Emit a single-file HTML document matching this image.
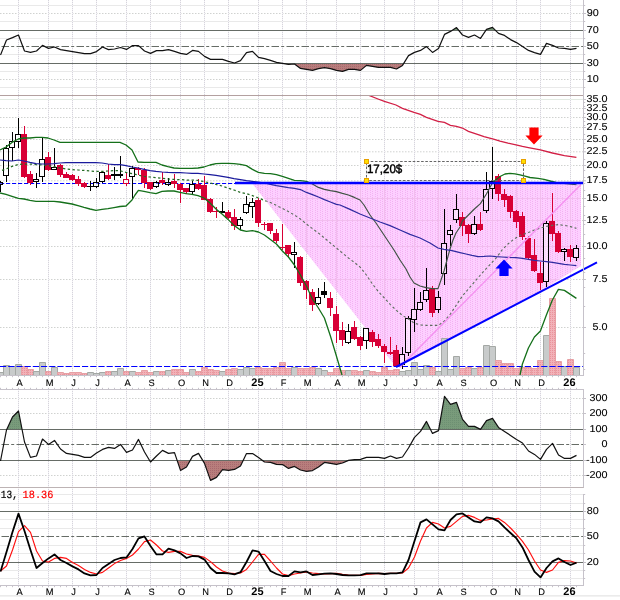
<!DOCTYPE html>
<html lang="en"><head><meta charset="utf-8"><title>Chart</title>
<style>html,body{margin:0;padding:0;background:#fff;}body{width:620px;height:600px;overflow:hidden;}svg{display:block;}text{font-family:"Liberation Sans",Arial,sans-serif;text-rendering:geometricPrecision;}.ax{font-size:10px;fill:#000;stroke:#000;stroke-width:0.1px;}.mo{font-size:9.3px;fill:#000;text-anchor:middle;stroke:#000;stroke-width:0.1px;}.yr{font-size:11px;font-weight:bold;fill:#000;text-anchor:middle;}.mono{font-family:"Liberation Mono","Courier New",monospace;font-size:11px;}</style></head><body>
<svg width="620" height="600" viewBox="0 0 620 600">
<defs>
<pattern id="pk" width="5" height="4" patternUnits="userSpaceOnUse"><rect width="5" height="4" fill="#f400ff" fill-opacity="0.19"/><g fill="#b000a3" fill-opacity="0.14"><rect x="0" y="0" width="1" height="1"/><rect x="0" y="2" width="1" height="1"/><rect x="2" y="1" width="1" height="1"/><rect x="2" y="3" width="1" height="1"/></g></pattern>
<pattern id="gn" width="2" height="2" patternUnits="userSpaceOnUse"><rect width="2" height="2" fill="#799b7b"/><rect width="1" height="1" fill="#6d8f72"/></pattern>
<pattern id="br" width="2" height="2" patternUnits="userSpaceOnUse"><rect width="2" height="2" fill="#b87e7c"/><rect width="1" height="1" fill="#a8686f"/></pattern>
<pattern id="vp" width="2" height="2" patternUnits="userSpaceOnUse"><rect width="2" height="2" fill="#f2b2b8"/><rect width="1" height="1" fill="#ea929c"/></pattern>
<clipPath id="cpPrice"><rect x="0" y="95" width="584" height="280.5"/></clipPath>
<clipPath id="cpBot"><rect x="0" y="585" width="620" height="10.4"/></clipPath>
<clipPath id="cpPink"><polygon points="251.8,183 581,183 581,266 539,292 396.0,367.0"/></clipPath>
<clipPath id="cpOut"><path clip-rule="evenodd" d="M0,90H620V380H0Z M251.8,183L581,183L581,266L539,292L396.0,367.0Z"/></clipPath>
</defs>
<rect width="620" height="600" fill="#fff"/>
<g fill="none">
<line x1="0" y1="5.5" x2="584" y2="5.5" stroke="#e9e9e9" stroke-width="1"/>
<line x1="0" y1="21.5" x2="584" y2="21.5" stroke="#e9e9e9" stroke-width="1"/>
<line x1="0" y1="38.5" x2="584" y2="38.5" stroke="#e9e9e9" stroke-width="1"/>
<line x1="0" y1="54.5" x2="584" y2="54.5" stroke="#e9e9e9" stroke-width="1"/>
<line x1="0" y1="71.5" x2="584" y2="71.5" stroke="#e9e9e9" stroke-width="1"/>
<line x1="0" y1="87.5" x2="584" y2="87.5" stroke="#e9e9e9" stroke-width="1"/>
<line x1="0" y1="13.5" x2="584" y2="13.5" stroke="#d0d2d0" stroke-width="1" stroke-dasharray="1.5 1.5"/>
<line x1="0" y1="79.5" x2="584" y2="79.5" stroke="#d0d2d0" stroke-width="1" stroke-dasharray="1.5 1.5"/>
<line x1="0" y1="108.5" x2="584" y2="108.5" stroke="#d0d2d0" stroke-width="1" stroke-dasharray="1.5 1.5"/>
<line x1="0" y1="117.5" x2="584" y2="117.5" stroke="#d0d2d0" stroke-width="1" stroke-dasharray="1.5 1.5"/>
<line x1="0" y1="127.5" x2="584" y2="127.5" stroke="#d0d2d0" stroke-width="1" stroke-dasharray="1.5 1.5"/>
<line x1="0" y1="139.5" x2="584" y2="139.5" stroke="#d0d2d0" stroke-width="1" stroke-dasharray="1.5 1.5"/>
<line x1="0" y1="151.8" x2="584" y2="151.8" stroke="#d0d2d0" stroke-width="1" stroke-dasharray="1.5 1.5"/>
<line x1="0" y1="165.5" x2="584" y2="165.5" stroke="#d0d2d0" stroke-width="1" stroke-dasharray="1.5 1.5"/>
<line x1="0" y1="180.8" x2="584" y2="180.8" stroke="#d0d2d0" stroke-width="1" stroke-dasharray="1.5 1.5"/>
<line x1="0" y1="198.5" x2="584" y2="198.5" stroke="#d0d2d0" stroke-width="1" stroke-dasharray="1.5 1.5"/>
<line x1="0" y1="220.5" x2="584" y2="220.5" stroke="#d0d2d0" stroke-width="1" stroke-dasharray="1.5 1.5"/>
<line x1="0" y1="246.5" x2="584" y2="246.5" stroke="#d0d2d0" stroke-width="1" stroke-dasharray="1.5 1.5"/>
<line x1="0" y1="279.5" x2="584" y2="279.5" stroke="#d0d2d0" stroke-width="1" stroke-dasharray="1.5 1.5"/>
<line x1="0" y1="327.5" x2="584" y2="327.5" stroke="#d0d2d0" stroke-width="1" stroke-dasharray="1.5 1.5"/>
<line x1="0" y1="99.5" x2="584" y2="99.5" stroke="#e2eae2" stroke-width="1"/>
<line x1="0" y1="398.5" x2="584" y2="398.5" stroke="#d0d2d0" stroke-width="1" stroke-dasharray="1.5 1.5"/>
<line x1="0" y1="413.5" x2="584" y2="413.5" stroke="#d0d2d0" stroke-width="1" stroke-dasharray="1.5 1.5"/>
<line x1="0" y1="475.5" x2="584" y2="475.5" stroke="#d0d2d0" stroke-width="1" stroke-dasharray="1.5 1.5"/>
<line x1="0" y1="494.5" x2="584" y2="494.5" stroke="#e9e9e9" stroke-width="1"/>
<line x1="0" y1="503.5" x2="584" y2="503.5" stroke="#e9e9e9" stroke-width="1"/>
<line x1="0" y1="519.5" x2="584" y2="519.5" stroke="#e9e9e9" stroke-width="1"/>
<line x1="0" y1="528.5" x2="584" y2="528.5" stroke="#e9e9e9" stroke-width="1"/>
<line x1="0" y1="545.5" x2="584" y2="545.5" stroke="#e9e9e9" stroke-width="1"/>
<line x1="0" y1="553.5" x2="584" y2="553.5" stroke="#e9e9e9" stroke-width="1"/>
<line x1="0" y1="570.5" x2="584" y2="570.5" stroke="#e9e9e9" stroke-width="1"/>
<line x1="0" y1="578.5" x2="584" y2="578.5" stroke="#e9e9e9" stroke-width="1"/>
<line x1="18.5" y1="0" x2="18.5" y2="375" stroke="#f4f3f6"/>
<line x1="18.5" y1="0" x2="18.5" y2="375" stroke="#d6d4dc" stroke-dasharray="1 1"/>
<line x1="18.5" y1="389" x2="18.5" y2="585" stroke="#f4f3f6"/>
<line x1="18.5" y1="389" x2="18.5" y2="585" stroke="#d6d4dc" stroke-dasharray="1 1"/>
<line x1="48.5" y1="0" x2="48.5" y2="375" stroke="#f4f3f6"/>
<line x1="48.5" y1="0" x2="48.5" y2="375" stroke="#d6d4dc" stroke-dasharray="1 1"/>
<line x1="48.5" y1="389" x2="48.5" y2="585" stroke="#f4f3f6"/>
<line x1="48.5" y1="389" x2="48.5" y2="585" stroke="#d6d4dc" stroke-dasharray="1 1"/>
<line x1="72.5" y1="0" x2="72.5" y2="375" stroke="#f4f3f6"/>
<line x1="72.5" y1="0" x2="72.5" y2="375" stroke="#d6d4dc" stroke-dasharray="1 1"/>
<line x1="72.5" y1="389" x2="72.5" y2="585" stroke="#f4f3f6"/>
<line x1="72.5" y1="389" x2="72.5" y2="585" stroke="#d6d4dc" stroke-dasharray="1 1"/>
<line x1="96.5" y1="0" x2="96.5" y2="375" stroke="#f4f3f6"/>
<line x1="96.5" y1="0" x2="96.5" y2="375" stroke="#d6d4dc" stroke-dasharray="1 1"/>
<line x1="96.5" y1="389" x2="96.5" y2="585" stroke="#f4f3f6"/>
<line x1="96.5" y1="389" x2="96.5" y2="585" stroke="#d6d4dc" stroke-dasharray="1 1"/>
<line x1="126.5" y1="0" x2="126.5" y2="375" stroke="#f4f3f6"/>
<line x1="126.5" y1="0" x2="126.5" y2="375" stroke="#d6d4dc" stroke-dasharray="1 1"/>
<line x1="126.5" y1="389" x2="126.5" y2="585" stroke="#f4f3f6"/>
<line x1="126.5" y1="389" x2="126.5" y2="585" stroke="#d6d4dc" stroke-dasharray="1 1"/>
<line x1="150.5" y1="0" x2="150.5" y2="375" stroke="#f4f3f6"/>
<line x1="150.5" y1="0" x2="150.5" y2="375" stroke="#d6d4dc" stroke-dasharray="1 1"/>
<line x1="150.5" y1="389" x2="150.5" y2="585" stroke="#f4f3f6"/>
<line x1="150.5" y1="389" x2="150.5" y2="585" stroke="#d6d4dc" stroke-dasharray="1 1"/>
<line x1="180.5" y1="0" x2="180.5" y2="375" stroke="#f4f3f6"/>
<line x1="180.5" y1="0" x2="180.5" y2="375" stroke="#d6d4dc" stroke-dasharray="1 1"/>
<line x1="180.5" y1="389" x2="180.5" y2="585" stroke="#f4f3f6"/>
<line x1="180.5" y1="389" x2="180.5" y2="585" stroke="#d6d4dc" stroke-dasharray="1 1"/>
<line x1="204.5" y1="0" x2="204.5" y2="375" stroke="#f4f3f6"/>
<line x1="204.5" y1="0" x2="204.5" y2="375" stroke="#d6d4dc" stroke-dasharray="1 1"/>
<line x1="204.5" y1="389" x2="204.5" y2="585" stroke="#f4f3f6"/>
<line x1="204.5" y1="389" x2="204.5" y2="585" stroke="#d6d4dc" stroke-dasharray="1 1"/>
<line x1="228.5" y1="0" x2="228.5" y2="375" stroke="#f4f3f6"/>
<line x1="228.5" y1="0" x2="228.5" y2="375" stroke="#d6d4dc" stroke-dasharray="1 1"/>
<line x1="228.5" y1="389" x2="228.5" y2="585" stroke="#f4f3f6"/>
<line x1="228.5" y1="389" x2="228.5" y2="585" stroke="#d6d4dc" stroke-dasharray="1 1"/>
<line x1="258.5" y1="0" x2="258.5" y2="375" stroke="#f4f3f6"/>
<line x1="258.5" y1="0" x2="258.5" y2="375" stroke="#d6d4dc" stroke-dasharray="1 1"/>
<line x1="258.5" y1="389" x2="258.5" y2="585" stroke="#f4f3f6"/>
<line x1="258.5" y1="389" x2="258.5" y2="585" stroke="#d6d4dc" stroke-dasharray="1 1"/>
<line x1="282.5" y1="0" x2="282.5" y2="375" stroke="#f4f3f6"/>
<line x1="282.5" y1="0" x2="282.5" y2="375" stroke="#d6d4dc" stroke-dasharray="1 1"/>
<line x1="282.5" y1="389" x2="282.5" y2="585" stroke="#f4f3f6"/>
<line x1="282.5" y1="389" x2="282.5" y2="585" stroke="#d6d4dc" stroke-dasharray="1 1"/>
<line x1="306.5" y1="0" x2="306.5" y2="375" stroke="#f4f3f6"/>
<line x1="306.5" y1="0" x2="306.5" y2="375" stroke="#d6d4dc" stroke-dasharray="1 1"/>
<line x1="306.5" y1="389" x2="306.5" y2="585" stroke="#f4f3f6"/>
<line x1="306.5" y1="389" x2="306.5" y2="585" stroke="#d6d4dc" stroke-dasharray="1 1"/>
<line x1="336.5" y1="0" x2="336.5" y2="375" stroke="#f4f3f6"/>
<line x1="336.5" y1="0" x2="336.5" y2="375" stroke="#d6d4dc" stroke-dasharray="1 1"/>
<line x1="336.5" y1="389" x2="336.5" y2="585" stroke="#f4f3f6"/>
<line x1="336.5" y1="389" x2="336.5" y2="585" stroke="#d6d4dc" stroke-dasharray="1 1"/>
<line x1="360.5" y1="0" x2="360.5" y2="375" stroke="#f4f3f6"/>
<line x1="360.5" y1="0" x2="360.5" y2="375" stroke="#d6d4dc" stroke-dasharray="1 1"/>
<line x1="360.5" y1="389" x2="360.5" y2="585" stroke="#f4f3f6"/>
<line x1="360.5" y1="389" x2="360.5" y2="585" stroke="#d6d4dc" stroke-dasharray="1 1"/>
<line x1="384.5" y1="0" x2="384.5" y2="375" stroke="#f4f3f6"/>
<line x1="384.5" y1="0" x2="384.5" y2="375" stroke="#d6d4dc" stroke-dasharray="1 1"/>
<line x1="384.5" y1="389" x2="384.5" y2="585" stroke="#f4f3f6"/>
<line x1="384.5" y1="389" x2="384.5" y2="585" stroke="#d6d4dc" stroke-dasharray="1 1"/>
<line x1="414.5" y1="0" x2="414.5" y2="375" stroke="#f4f3f6"/>
<line x1="414.5" y1="0" x2="414.5" y2="375" stroke="#d6d4dc" stroke-dasharray="1 1"/>
<line x1="414.5" y1="389" x2="414.5" y2="585" stroke="#f4f3f6"/>
<line x1="414.5" y1="389" x2="414.5" y2="585" stroke="#d6d4dc" stroke-dasharray="1 1"/>
<line x1="438.5" y1="0" x2="438.5" y2="375" stroke="#f4f3f6"/>
<line x1="438.5" y1="0" x2="438.5" y2="375" stroke="#d6d4dc" stroke-dasharray="1 1"/>
<line x1="438.5" y1="389" x2="438.5" y2="585" stroke="#f4f3f6"/>
<line x1="438.5" y1="389" x2="438.5" y2="585" stroke="#d6d4dc" stroke-dasharray="1 1"/>
<line x1="462.5" y1="0" x2="462.5" y2="375" stroke="#f4f3f6"/>
<line x1="462.5" y1="0" x2="462.5" y2="375" stroke="#d6d4dc" stroke-dasharray="1 1"/>
<line x1="462.5" y1="389" x2="462.5" y2="585" stroke="#f4f3f6"/>
<line x1="462.5" y1="389" x2="462.5" y2="585" stroke="#d6d4dc" stroke-dasharray="1 1"/>
<line x1="492.5" y1="0" x2="492.5" y2="375" stroke="#f4f3f6"/>
<line x1="492.5" y1="0" x2="492.5" y2="375" stroke="#d6d4dc" stroke-dasharray="1 1"/>
<line x1="492.5" y1="389" x2="492.5" y2="585" stroke="#f4f3f6"/>
<line x1="492.5" y1="389" x2="492.5" y2="585" stroke="#d6d4dc" stroke-dasharray="1 1"/>
<line x1="516.5" y1="0" x2="516.5" y2="375" stroke="#f4f3f6"/>
<line x1="516.5" y1="0" x2="516.5" y2="375" stroke="#d6d4dc" stroke-dasharray="1 1"/>
<line x1="516.5" y1="389" x2="516.5" y2="585" stroke="#f4f3f6"/>
<line x1="516.5" y1="389" x2="516.5" y2="585" stroke="#d6d4dc" stroke-dasharray="1 1"/>
<line x1="540.5" y1="0" x2="540.5" y2="375" stroke="#f4f3f6"/>
<line x1="540.5" y1="0" x2="540.5" y2="375" stroke="#d6d4dc" stroke-dasharray="1 1"/>
<line x1="540.5" y1="389" x2="540.5" y2="585" stroke="#f4f3f6"/>
<line x1="540.5" y1="389" x2="540.5" y2="585" stroke="#d6d4dc" stroke-dasharray="1 1"/>
<line x1="570.5" y1="0" x2="570.5" y2="375" stroke="#f4f3f6"/>
<line x1="570.5" y1="0" x2="570.5" y2="375" stroke="#d6d4dc" stroke-dasharray="1 1"/>
<line x1="570.5" y1="389" x2="570.5" y2="585" stroke="#f4f3f6"/>
<line x1="570.5" y1="389" x2="570.5" y2="585" stroke="#d6d4dc" stroke-dasharray="1 1"/>
</g>
<polygon points="251.8,183 581,183 581,266 539,292 396.0,367.0" fill="#fff"/>
<polygon points="251.8,183 581,183 581,266 539,292 396.0,367.0" fill="url(#pk)"/>
<g fill="none" clip-path="url(#cpPink)" stroke="#f2bdee">
<line x1="250" y1="198.5" x2="584" y2="198.5"/>
<line x1="250" y1="220.5" x2="584" y2="220.5"/>
<line x1="250" y1="246.5" x2="584" y2="246.5"/>
<line x1="250" y1="279.5" x2="584" y2="279.5"/>
<line x1="258.5" y1="180" x2="258.5" y2="370"/>
<line x1="282.5" y1="180" x2="282.5" y2="370"/>
<line x1="306.5" y1="180" x2="306.5" y2="370"/>
<line x1="336.5" y1="180" x2="336.5" y2="370"/>
<line x1="360.5" y1="180" x2="360.5" y2="370"/>
<line x1="384.5" y1="180" x2="384.5" y2="370"/>
<line x1="414.5" y1="180" x2="414.5" y2="370"/>
<line x1="438.5" y1="180" x2="438.5" y2="370"/>
<line x1="462.5" y1="180" x2="462.5" y2="370"/>
<line x1="492.5" y1="180" x2="492.5" y2="370"/>
<line x1="516.5" y1="180" x2="516.5" y2="370"/>
<line x1="540.5" y1="180" x2="540.5" y2="370"/>
<line x1="570.5" y1="180" x2="570.5" y2="370"/>
</g>
<g fill="none">
<polygon points="451.9,30.5 456.5,27.6 458.9,30.5" fill="url(#gn)" stroke="none"/>
<polygon points="485.8,30.5 486.5,29.4 492.5,27.4 495.6,30.5" fill="url(#gn)" stroke="none"/>
<polygon points="283.1,63.5 288.5,64.4 294.5,64.0 300.5,68.4 306.5,69.4 312.5,70.4 318.5,68.6 324.5,67.6 330.5,68.6 336.5,70.4 342.5,71.4 348.5,69.4 354.5,69.4 360.5,70.4 366.5,65.4 372.5,66.4 378.5,67.4 384.5,67.4 390.5,67.4 396.5,69.0 402.5,65.4 403.7,63.5" fill="url(#br)" stroke="none"/>
<line x1="0" y1="30.5" x2="584" y2="30.5" stroke="#666c66" stroke-width="1"/>
<line x1="0" y1="63.5" x2="584" y2="63.5" stroke="#666c66" stroke-width="1"/>
<line x1="1.5" y1="46.5" x2="584" y2="46.5" stroke="#666c66" stroke-width="1" stroke-dasharray="7.5 2.2 3 2.3"/>
</g>
<polyline points="0.5,55.0 6.5,40.0 12.5,37.6 18.5,35.0 24.5,51.0 30.5,52.4 36.5,51.0 42.5,45.4 48.5,48.4 54.5,47.0 60.5,49.6 66.5,50.6 72.5,51.6 78.5,52.6 84.5,53.6 90.5,53.6 96.5,51.6 102.5,47.0 108.5,49.6 114.5,49.0 120.5,47.5 126.5,49.4 132.5,45.6 138.5,45.6 144.5,51.0 150.5,53.4 156.5,50.6 162.5,50.6 168.5,49.6 174.5,51.4 180.5,53.4 186.5,54.4 192.5,50.4 198.5,51.4 204.5,56.4 210.5,59.4 216.5,59.4 222.5,59.4 228.5,61.4 234.5,63.0 240.5,60.6 246.5,52.6 252.5,51.4 258.5,57.4 264.5,58.6 270.5,60.4 276.5,62.4 282.5,63.4 288.5,64.4 294.5,64.0 300.5,68.4 306.5,69.4 312.5,70.4 318.5,68.6 324.5,67.6 330.5,68.6 336.5,70.4 342.5,71.4 348.5,69.4 354.5,69.4 360.5,70.4 366.5,65.4 372.5,66.4 378.5,67.4 384.5,67.4 390.5,67.4 396.5,69.0 402.5,65.4 408.5,55.6 414.5,52.4 420.5,50.4 426.5,46.6 432.5,52.4 438.5,48.6 444.5,34.4 450.5,31.4 456.5,27.6 462.5,35.0 468.5,37.4 474.5,35.0 480.5,38.4 486.5,29.4 492.5,27.4 498.5,33.4 504.5,35.4 510.5,39.6 516.5,42.6 522.5,46.6 528.5,50.4 534.5,52.6 540.5,54.4 546.5,43.4 552.5,45.4 558.5,48.0 564.5,48.4 570.5,49.4 576.5,48.4" fill="none" stroke="#111" stroke-width="1.2" stroke-linejoin="round"/>
<g clip-path="url(#cpPrice)">
<g>
<path d="M-2.5,375.5V372.5H3.5V375.5" fill="#c8cbcb" stroke="#a4a8a5"/>
<path d="M3.5,375.5V365.5H9.5V375.5" fill="#c8cbcb" stroke="#a4a8a5"/>
<path d="M9.5,375.5V366.5H15.5V375.5" fill="#c8cbcb" stroke="#a4a8a5"/>
<path d="M15.5,375.5V364.5H21.5V375.5" fill="#c8cbcb" stroke="#a4a8a5"/>
<path d="M21.5,375.5V366.5H27.5V375.5" fill="url(#vp)" stroke="#e6a0a4"/>
<path d="M27.5,375.5V369.5H33.5V375.5" fill="url(#vp)" stroke="#e6a0a4"/>
<path d="M33.5,375.5V371.5H39.5V375.5" fill="#c8cbcb" stroke="#a4a8a5"/>
<path d="M39.5,375.5V362.5H45.5V375.5" fill="#c8cbcb" stroke="#a4a8a5"/>
<path d="M45.5,375.5V371.5H51.5V375.5" fill="url(#vp)" stroke="#e6a0a4"/>
<path d="M51.5,375.5V367.5H57.5V375.5" fill="#c8cbcb" stroke="#a4a8a5"/>
<path d="M57.5,375.5V372.5H63.5V375.5" fill="url(#vp)" stroke="#e6a0a4"/>
<path d="M63.5,375.5V373.5H69.5V375.5" fill="url(#vp)" stroke="#e6a0a4"/>
<path d="M69.5,375.5V372.5H75.5V375.5" fill="url(#vp)" stroke="#e6a0a4"/>
<path d="M75.5,375.5V372.5H81.5V375.5" fill="url(#vp)" stroke="#e6a0a4"/>
<path d="M81.5,375.5V373.5H87.5V375.5" fill="url(#vp)" stroke="#e6a0a4"/>
<path d="M87.5,375.5V372.5H93.5V375.5" fill="#c8cbcb" stroke="#a4a8a5"/>
<path d="M93.5,375.5V373.5H99.5V375.5" fill="#c8cbcb" stroke="#a4a8a5"/>
<path d="M99.5,375.5V372.5H105.5V375.5" fill="#c8cbcb" stroke="#a4a8a5"/>
<path d="M105.5,375.5V371.5H111.5V375.5" fill="url(#vp)" stroke="#e6a0a4"/>
<path d="M111.5,375.5V371.5H117.5V375.5" fill="#c8cbcb" stroke="#a4a8a5"/>
<path d="M117.5,375.5V368.5H123.5V375.5" fill="#c8cbcb" stroke="#a4a8a5"/>
<path d="M123.5,375.5V371.5H129.5V375.5" fill="url(#vp)" stroke="#e6a0a4"/>
<path d="M129.5,375.5V371.5H135.5V375.5" fill="#c8cbcb" stroke="#a4a8a5"/>
<path d="M135.5,375.5V372.5H141.5V375.5" fill="url(#vp)" stroke="#e6a0a4"/>
<path d="M141.5,375.5V370.5H147.5V375.5" fill="url(#vp)" stroke="#e6a0a4"/>
<path d="M147.5,375.5V372.5H153.5V375.5" fill="url(#vp)" stroke="#e6a0a4"/>
<path d="M153.5,375.5V371.5H159.5V375.5" fill="#c8cbcb" stroke="#a4a8a5"/>
<path d="M159.5,375.5V371.5H165.5V375.5" fill="url(#vp)" stroke="#e6a0a4"/>
<path d="M165.5,375.5V370.5H171.5V375.5" fill="#c8cbcb" stroke="#a4a8a5"/>
<path d="M171.5,375.5V369.5H177.5V375.5" fill="url(#vp)" stroke="#e6a0a4"/>
<path d="M177.5,375.5V369.5H183.5V375.5" fill="url(#vp)" stroke="#e6a0a4"/>
<path d="M183.5,375.5V372.5H189.5V375.5" fill="url(#vp)" stroke="#e6a0a4"/>
<path d="M189.5,375.5V369.5H195.5V375.5" fill="#c8cbcb" stroke="#a4a8a5"/>
<path d="M195.5,375.5V371.5H201.5V375.5" fill="url(#vp)" stroke="#e6a0a4"/>
<path d="M201.5,375.5V367.5H207.5V375.5" fill="url(#vp)" stroke="#e6a0a4"/>
<path d="M207.5,375.5V369.5H213.5V375.5" fill="url(#vp)" stroke="#e6a0a4"/>
<path d="M213.5,375.5V370.5H219.5V375.5" fill="url(#vp)" stroke="#e6a0a4"/>
<path d="M219.5,375.5V371.5H225.5V375.5" fill="#c8cbcb" stroke="#a4a8a5"/>
<path d="M225.5,375.5V369.5H231.5V375.5" fill="url(#vp)" stroke="#e6a0a4"/>
<path d="M231.5,375.5V368.5H237.5V375.5" fill="url(#vp)" stroke="#e6a0a4"/>
<path d="M237.5,375.5V369.5H243.5V375.5" fill="#c8cbcb" stroke="#a4a8a5"/>
<path d="M243.5,375.5V367.5H249.5V375.5" fill="#c8cbcb" stroke="#a4a8a5"/>
<path d="M249.5,375.5V368.5H255.5V375.5" fill="#c8cbcb" stroke="#a4a8a5"/>
<path d="M255.5,375.5V367.5H261.5V375.5" fill="url(#vp)" stroke="#e6a0a4"/>
<path d="M261.5,375.5V368.5H267.5V375.5" fill="url(#vp)" stroke="#e6a0a4"/>
<path d="M267.5,375.5V368.5H273.5V375.5" fill="url(#vp)" stroke="#e6a0a4"/>
<path d="M273.5,375.5V367.5H279.5V375.5" fill="url(#vp)" stroke="#e6a0a4"/>
<path d="M279.5,375.5V362.5H285.5V375.5" fill="url(#vp)" stroke="#e6a0a4"/>
<path d="M285.5,375.5V368.5H291.5V375.5" fill="url(#vp)" stroke="#e6a0a4"/>
<path d="M291.5,375.5V367.5H297.5V375.5" fill="#c8cbcb" stroke="#a4a8a5"/>
<path d="M297.5,375.5V368.5H303.5V375.5" fill="url(#vp)" stroke="#e6a0a4"/>
<path d="M303.5,375.5V368.5H309.5V375.5" fill="url(#vp)" stroke="#e6a0a4"/>
<path d="M309.5,375.5V367.5H315.5V375.5" fill="url(#vp)" stroke="#e6a0a4"/>
<path d="M315.5,375.5V368.5H321.5V375.5" fill="#c8cbcb" stroke="#a4a8a5"/>
<path d="M321.5,375.5V370.5H327.5V375.5" fill="#c8cbcb" stroke="#a4a8a5"/>
<path d="M327.5,375.5V372.5H333.5V375.5" fill="url(#vp)" stroke="#e6a0a4"/>
<path d="M333.5,375.5V368.5H339.5V375.5" fill="url(#vp)" stroke="#e6a0a4"/>
<path d="M339.5,375.5V370.5H345.5V375.5" fill="url(#vp)" stroke="#e6a0a4"/>
<path d="M345.5,375.5V370.5H351.5V375.5" fill="#c8cbcb" stroke="#a4a8a5"/>
<path d="M351.5,375.5V370.5H357.5V375.5" fill="url(#vp)" stroke="#e6a0a4"/>
<path d="M357.5,375.5V371.5H363.5V375.5" fill="url(#vp)" stroke="#e6a0a4"/>
<path d="M363.5,375.5V370.5H369.5V375.5" fill="#c8cbcb" stroke="#a4a8a5"/>
<path d="M369.5,375.5V371.5H375.5V375.5" fill="url(#vp)" stroke="#e6a0a4"/>
<path d="M375.5,375.5V372.5H381.5V375.5" fill="url(#vp)" stroke="#e6a0a4"/>
<path d="M381.5,375.5V367.5H387.5V375.5" fill="url(#vp)" stroke="#e6a0a4"/>
<path d="M387.5,375.5V370.5H393.5V375.5" fill="url(#vp)" stroke="#e6a0a4"/>
<path d="M393.5,375.5V369.5H399.5V375.5" fill="url(#vp)" stroke="#e6a0a4"/>
<path d="M399.5,375.5V371.5H405.5V375.5" fill="#c8cbcb" stroke="#a4a8a5"/>
<path d="M405.5,375.5V370.5H411.5V375.5" fill="#c8cbcb" stroke="#a4a8a5"/>
<path d="M411.5,375.5V362.5H417.5V375.5" fill="#c8cbcb" stroke="#a4a8a5"/>
<path d="M417.5,375.5V369.5H423.5V375.5" fill="#c8cbcb" stroke="#a4a8a5"/>
<path d="M423.5,375.5V365.5H429.5V375.5" fill="#c8cbcb" stroke="#a4a8a5"/>
<path d="M429.5,375.5V367.5H435.5V375.5" fill="url(#vp)" stroke="#e6a0a4"/>
<path d="M435.5,375.5V371.5H441.5V375.5" fill="#c8cbcb" stroke="#a4a8a5"/>
<path d="M441.5,375.5V338.5H447.5V375.5" fill="#c8cbcb" stroke="#a4a8a5"/>
<path d="M447.5,375.5V369.5H453.5V375.5" fill="#c8cbcb" stroke="#a4a8a5"/>
<path d="M453.5,375.5V356.5H459.5V375.5" fill="#c8cbcb" stroke="#a4a8a5"/>
<path d="M459.5,375.5V368.5H465.5V375.5" fill="url(#vp)" stroke="#e6a0a4"/>
<path d="M465.5,375.5V367.5H471.5V375.5" fill="url(#vp)" stroke="#e6a0a4"/>
<path d="M471.5,375.5V368.5H477.5V375.5" fill="#c8cbcb" stroke="#a4a8a5"/>
<path d="M477.5,375.5V367.5H483.5V375.5" fill="url(#vp)" stroke="#e6a0a4"/>
<path d="M483.5,375.5V345.5H489.5V375.5" fill="#c8cbcb" stroke="#a4a8a5"/>
<path d="M489.5,375.5V346.5H495.5V375.5" fill="#c8cbcb" stroke="#a4a8a5"/>
<path d="M495.5,375.5V360.5H501.5V375.5" fill="url(#vp)" stroke="#e6a0a4"/>
<path d="M501.5,375.5V363.5H507.5V375.5" fill="url(#vp)" stroke="#e6a0a4"/>
<path d="M507.5,375.5V363.5H513.5V375.5" fill="url(#vp)" stroke="#e6a0a4"/>
<path d="M513.5,375.5V368.5H519.5V375.5" fill="url(#vp)" stroke="#e6a0a4"/>
<path d="M519.5,375.5V367.5H525.5V375.5" fill="url(#vp)" stroke="#e6a0a4"/>
<path d="M525.5,375.5V367.5H531.5V375.5" fill="url(#vp)" stroke="#e6a0a4"/>
<path d="M531.5,375.5V368.5H537.5V375.5" fill="url(#vp)" stroke="#e6a0a4"/>
<path d="M537.5,375.5V360.5H543.5V375.5" fill="url(#vp)" stroke="#e6a0a4"/>
<path d="M543.5,375.5V335.5H549.5V375.5" fill="#c8cbcb" stroke="#a4a8a5"/>
<path d="M549.5,375.5V298.5H555.5V375.5" fill="url(#vp)" stroke="#e6a0a4"/>
<path d="M555.5,375.5V361.5H561.5V375.5" fill="url(#vp)" stroke="#e6a0a4"/>
<path d="M561.5,375.5V366.5H567.5V375.5" fill="#c8cbcb" stroke="#a4a8a5"/>
<path d="M567.5,375.5V359.5H573.5V375.5" fill="url(#vp)" stroke="#e6a0a4"/>
<path d="M573.5,375.5V367.5H579.5V375.5" fill="#c8cbcb" stroke="#a4a8a5"/>
</g>
<line x1="0" y1="366.5" x2="584" y2="366.5" stroke="#0000ff" stroke-width="1" stroke-dasharray="6.2 2"/>
<line x1="0" y1="183.5" x2="236" y2="183.5" stroke="#0000ff" stroke-width="1" stroke-dasharray="4.2 1.8"/>
<g shape-rendering="crispEdges">
<line x1="0.5" y1="181" x2="0.5" y2="182" stroke="#000"/>
<line x1="0.5" y1="185" x2="0.5" y2="192" stroke="#000"/>
<rect x="-2.5" y="182.5" width="5" height="2" fill="#fff" fill-opacity="0.4" stroke="#000"/>
<line x1="6.5" y1="145" x2="6.5" y2="148" stroke="#000"/>
<line x1="6.5" y1="176" x2="6.5" y2="182" stroke="#000"/>
<rect x="3.5" y="148.5" width="5" height="27" fill="#fff" fill-opacity="0.4" stroke="#000"/>
<line x1="12.5" y1="132" x2="12.5" y2="141" stroke="#000"/>
<line x1="12.5" y1="148" x2="12.5" y2="161" stroke="#000"/>
<rect x="9.5" y="141.5" width="5" height="6" fill="#fff" fill-opacity="0.4" stroke="#000"/>
<line x1="18.5" y1="118" x2="18.5" y2="134" stroke="#000"/>
<line x1="18.5" y1="142" x2="18.5" y2="148" stroke="#000"/>
<rect x="15.5" y="134.5" width="5" height="7" fill="#fff" fill-opacity="0.4" stroke="#000"/>
<line x1="24.5" y1="126" x2="24.5" y2="178" stroke="#d80036"/>
<rect x="21" y="134" width="6" height="43" fill="#d80036"/>
<line x1="30.5" y1="171" x2="30.5" y2="185" stroke="#d80036"/>
<rect x="27" y="174" width="6" height="9" fill="#d80036"/>
<line x1="36.5" y1="173" x2="36.5" y2="179" stroke="#000"/>
<line x1="36.5" y1="182" x2="36.5" y2="188" stroke="#000"/>
<rect x="33.5" y="179.5" width="5" height="2" fill="#fff" fill-opacity="0.4" stroke="#000"/>
<line x1="42.5" y1="138" x2="42.5" y2="159" stroke="#000"/>
<line x1="42.5" y1="177" x2="42.5" y2="182" stroke="#000"/>
<rect x="39.5" y="159.5" width="5" height="17" fill="#fff" fill-opacity="0.4" stroke="#000"/>
<line x1="48.5" y1="152" x2="48.5" y2="171" stroke="#d80036"/>
<rect x="45" y="157" width="6" height="13" fill="#d80036"/>
<line x1="54.5" y1="148" x2="54.5" y2="167" stroke="#000"/>
<rect x="51.5" y="167.5" width="5" height="2" fill="#fff" fill-opacity="0.4" stroke="#000"/>
<line x1="60.5" y1="164" x2="60.5" y2="177" stroke="#d80036"/>
<rect x="57" y="165" width="6" height="10" fill="#d80036"/>
<line x1="66.5" y1="172" x2="66.5" y2="178" stroke="#d80036"/>
<rect x="63" y="174" width="6" height="4" fill="#d80036"/>
<line x1="72.5" y1="174" x2="72.5" y2="181" stroke="#d80036"/>
<rect x="69" y="175" width="6" height="5" fill="#d80036"/>
<line x1="78.5" y1="176" x2="78.5" y2="186" stroke="#d80036"/>
<rect x="75" y="179" width="6" height="5" fill="#d80036"/>
<line x1="84.5" y1="182" x2="84.5" y2="188" stroke="#d80036"/>
<rect x="81" y="183" width="6" height="4" fill="#d80036"/>
<line x1="90.5" y1="181" x2="90.5" y2="191" stroke="#000"/>
<rect x="87" y="186" width="6" height="1" fill="#000"/>
<line x1="96.5" y1="178" x2="96.5" y2="182" stroke="#000"/>
<line x1="96.5" y1="187" x2="96.5" y2="188" stroke="#000"/>
<rect x="93.5" y="182.5" width="5" height="4" fill="#fff" fill-opacity="0.4" stroke="#000"/>
<line x1="102.5" y1="182" x2="102.5" y2="183" stroke="#000"/>
<rect x="99.5" y="172.5" width="5" height="9" fill="#fff" fill-opacity="0.4" stroke="#000"/>
<line x1="108.5" y1="164" x2="108.5" y2="180" stroke="#d80036"/>
<rect x="105" y="175" width="6" height="4" fill="#d80036"/>
<line x1="114.5" y1="167" x2="114.5" y2="180" stroke="#000"/>
<rect x="111" y="174" width="6" height="2" fill="#000"/>
<line x1="120.5" y1="156" x2="120.5" y2="178" stroke="#000"/>
<rect x="117" y="174" width="6" height="2" fill="#000"/>
<line x1="126.5" y1="172" x2="126.5" y2="179" stroke="#d80036"/>
<line x1="126.5" y1="184" x2="126.5" y2="186" stroke="#d80036"/>
<rect x="123.5" y="179.5" width="5" height="4" fill="#fff" fill-opacity="0.4" stroke="#d80036"/>
<line x1="132.5" y1="166" x2="132.5" y2="168" stroke="#000"/>
<line x1="132.5" y1="177" x2="132.5" y2="199" stroke="#000"/>
<rect x="129.5" y="168.5" width="5" height="8" fill="#fff" fill-opacity="0.4" stroke="#000"/>
<line x1="138.5" y1="167" x2="138.5" y2="175" stroke="#d80036"/>
<rect x="135" y="168" width="6" height="2" fill="#d80036"/>
<line x1="144.5" y1="168" x2="144.5" y2="188" stroke="#d80036"/>
<rect x="141" y="170" width="6" height="13" fill="#d80036"/>
<line x1="150.5" y1="182" x2="150.5" y2="190" stroke="#d80036"/>
<rect x="147" y="182" width="6" height="7" fill="#d80036"/>
<line x1="156.5" y1="181" x2="156.5" y2="182" stroke="#000"/>
<line x1="156.5" y1="187" x2="156.5" y2="188" stroke="#000"/>
<rect x="153.5" y="182.5" width="5" height="4" fill="#fff" fill-opacity="0.4" stroke="#000"/>
<line x1="162.5" y1="172" x2="162.5" y2="185" stroke="#d80036"/>
<rect x="159" y="180" width="6" height="3" fill="#d80036"/>
<line x1="168.5" y1="178" x2="168.5" y2="182" stroke="#000"/>
<line x1="168.5" y1="185" x2="168.5" y2="186" stroke="#000"/>
<rect x="165.5" y="182.5" width="5" height="2" fill="#fff" fill-opacity="0.4" stroke="#000"/>
<line x1="174.5" y1="174" x2="174.5" y2="188" stroke="#d80036"/>
<rect x="171" y="181" width="6" height="3" fill="#d80036"/>
<line x1="180.5" y1="183" x2="180.5" y2="203" stroke="#d80036"/>
<rect x="177" y="184" width="6" height="6" fill="#d80036"/>
<line x1="186.5" y1="188" x2="186.5" y2="194" stroke="#d80036"/>
<rect x="183" y="188" width="6" height="4" fill="#d80036"/>
<line x1="192.5" y1="181" x2="192.5" y2="184" stroke="#000"/>
<line x1="192.5" y1="192" x2="192.5" y2="194" stroke="#000"/>
<rect x="189.5" y="184.5" width="5" height="7" fill="#fff" fill-opacity="0.4" stroke="#000"/>
<line x1="198.5" y1="179" x2="198.5" y2="190" stroke="#d80036"/>
<rect x="195" y="184" width="6" height="5" fill="#d80036"/>
<line x1="204.5" y1="176" x2="204.5" y2="200" stroke="#d80036"/>
<rect x="201" y="185" width="6" height="15" fill="#d80036"/>
<line x1="210.5" y1="198" x2="210.5" y2="213" stroke="#d80036"/>
<rect x="207" y="199" width="6" height="13" fill="#d80036"/>
<line x1="216.5" y1="207" x2="216.5" y2="218" stroke="#d80036"/>
<rect x="213" y="211" width="6" height="1" fill="#d80036"/>
<line x1="222.5" y1="202" x2="222.5" y2="213" stroke="#000"/>
<rect x="219" y="211" width="6" height="2" fill="#000"/>
<line x1="228.5" y1="210" x2="228.5" y2="219" stroke="#d80036"/>
<rect x="225" y="212" width="6" height="6" fill="#d80036"/>
<line x1="234.5" y1="209" x2="234.5" y2="230" stroke="#d80036"/>
<rect x="231" y="217" width="6" height="9" fill="#d80036"/>
<line x1="240.5" y1="217" x2="240.5" y2="219" stroke="#000"/>
<line x1="240.5" y1="226" x2="240.5" y2="230" stroke="#000"/>
<rect x="237.5" y="219.5" width="5" height="6" fill="#fff" fill-opacity="0.4" stroke="#000"/>
<line x1="246.5" y1="196" x2="246.5" y2="204" stroke="#000"/>
<line x1="246.5" y1="213" x2="246.5" y2="214" stroke="#000"/>
<rect x="243.5" y="204.5" width="5" height="8" fill="#fff" fill-opacity="0.4" stroke="#000"/>
<line x1="252.5" y1="198" x2="252.5" y2="202" stroke="#000"/>
<line x1="252.5" y1="207" x2="252.5" y2="218" stroke="#000"/>
<rect x="249.5" y="202.5" width="5" height="4" fill="#fff" fill-opacity="0.4" stroke="#000"/>
<line x1="258.5" y1="198" x2="258.5" y2="227" stroke="#d80036"/>
<rect x="255" y="200" width="6" height="23" fill="#d80036"/>
<line x1="264.5" y1="222" x2="264.5" y2="230" stroke="#d80036"/>
<rect x="261" y="224" width="6" height="1" fill="#d80036"/>
<line x1="270.5" y1="223" x2="270.5" y2="234" stroke="#d80036"/>
<rect x="267" y="223" width="6" height="8" fill="#d80036"/>
<line x1="276.5" y1="229" x2="276.5" y2="243" stroke="#d80036"/>
<rect x="273" y="233" width="6" height="8" fill="#d80036"/>
<line x1="282.5" y1="224" x2="282.5" y2="250" stroke="#d80036"/>
<rect x="279" y="247" width="6" height="1" fill="#d80036"/>
<line x1="288.5" y1="245" x2="288.5" y2="258" stroke="#d80036"/>
<rect x="285" y="245" width="6" height="9" fill="#d80036"/>
<line x1="294.5" y1="242" x2="294.5" y2="252" stroke="#000"/>
<line x1="294.5" y1="255" x2="294.5" y2="268" stroke="#000"/>
<rect x="291.5" y="252.5" width="5" height="2" fill="#fff" fill-opacity="0.4" stroke="#000"/>
<line x1="300.5" y1="256" x2="300.5" y2="286" stroke="#d80036"/>
<rect x="297" y="257" width="6" height="26" fill="#d80036"/>
<line x1="306.5" y1="280" x2="306.5" y2="299" stroke="#d80036"/>
<rect x="303" y="281" width="6" height="9" fill="#d80036"/>
<line x1="312.5" y1="289" x2="312.5" y2="311" stroke="#d80036"/>
<rect x="309" y="292" width="6" height="13" fill="#d80036"/>
<line x1="318.5" y1="288" x2="318.5" y2="297" stroke="#000"/>
<line x1="318.5" y1="304" x2="318.5" y2="305" stroke="#000"/>
<rect x="315.5" y="297.5" width="5" height="6" fill="#fff" fill-opacity="0.4" stroke="#000"/>
<line x1="324.5" y1="282" x2="324.5" y2="298" stroke="#000"/>
<rect x="321" y="291" width="6" height="4" fill="#000"/>
<line x1="330.5" y1="292" x2="330.5" y2="316" stroke="#d80036"/>
<rect x="327" y="298" width="6" height="10" fill="#d80036"/>
<line x1="336.5" y1="306" x2="336.5" y2="343" stroke="#d80036"/>
<rect x="333" y="314" width="6" height="17" fill="#d80036"/>
<line x1="342.5" y1="322" x2="342.5" y2="346" stroke="#d80036"/>
<rect x="339" y="330" width="6" height="10" fill="#d80036"/>
<line x1="348.5" y1="324" x2="348.5" y2="331" stroke="#000"/>
<line x1="348.5" y1="343" x2="348.5" y2="344" stroke="#000"/>
<rect x="345.5" y="331.5" width="5" height="11" fill="#fff" fill-opacity="0.4" stroke="#000"/>
<line x1="354.5" y1="321" x2="354.5" y2="340" stroke="#d80036"/>
<rect x="351" y="327" width="6" height="12" fill="#d80036"/>
<line x1="360.5" y1="336" x2="360.5" y2="350" stroke="#d80036"/>
<rect x="357" y="337" width="6" height="9" fill="#d80036"/>
<line x1="366.5" y1="341" x2="366.5" y2="349" stroke="#000"/>
<rect x="363.5" y="328.5" width="5" height="12" fill="#fff" fill-opacity="0.4" stroke="#000"/>
<line x1="372.5" y1="330" x2="372.5" y2="347" stroke="#d80036"/>
<rect x="369" y="332" width="6" height="10" fill="#d80036"/>
<line x1="378.5" y1="334" x2="378.5" y2="348" stroke="#d80036"/>
<rect x="375" y="339" width="6" height="7" fill="#d80036"/>
<line x1="384.5" y1="344" x2="384.5" y2="363" stroke="#d80036"/>
<rect x="381" y="346" width="6" height="6" fill="#d80036"/>
<line x1="390.5" y1="337" x2="390.5" y2="355" stroke="#d80036"/>
<rect x="387" y="352" width="6" height="2" fill="#d80036"/>
<line x1="396.5" y1="345" x2="396.5" y2="366" stroke="#d80036"/>
<rect x="393" y="350" width="6" height="16" fill="#d80036"/>
<line x1="402.5" y1="347" x2="402.5" y2="354" stroke="#000"/>
<line x1="402.5" y1="365" x2="402.5" y2="369" stroke="#000"/>
<rect x="399.5" y="354.5" width="5" height="10" fill="#fff" fill-opacity="0.4" stroke="#000"/>
<line x1="408.5" y1="316" x2="408.5" y2="318" stroke="#000"/>
<line x1="408.5" y1="353" x2="408.5" y2="356" stroke="#000"/>
<rect x="405.5" y="318.5" width="5" height="34" fill="#fff" fill-opacity="0.4" stroke="#000"/>
<line x1="414.5" y1="288" x2="414.5" y2="309" stroke="#000"/>
<line x1="414.5" y1="320" x2="414.5" y2="332" stroke="#000"/>
<rect x="411.5" y="309.5" width="5" height="10" fill="#fff" fill-opacity="0.4" stroke="#000"/>
<line x1="420.5" y1="292" x2="420.5" y2="302" stroke="#000"/>
<line x1="420.5" y1="310" x2="420.5" y2="311" stroke="#000"/>
<rect x="417.5" y="302.5" width="5" height="7" fill="#fff" fill-opacity="0.4" stroke="#000"/>
<line x1="426.5" y1="268" x2="426.5" y2="290" stroke="#000"/>
<line x1="426.5" y1="300" x2="426.5" y2="302" stroke="#000"/>
<rect x="423.5" y="290.5" width="5" height="9" fill="#fff" fill-opacity="0.4" stroke="#000"/>
<line x1="432.5" y1="286" x2="432.5" y2="317" stroke="#d80036"/>
<rect x="429" y="289" width="6" height="24" fill="#d80036"/>
<line x1="438.5" y1="291" x2="438.5" y2="297" stroke="#000"/>
<line x1="438.5" y1="310" x2="438.5" y2="313" stroke="#000"/>
<rect x="435.5" y="297.5" width="5" height="12" fill="#fff" fill-opacity="0.4" stroke="#000"/>
<line x1="444.5" y1="209" x2="444.5" y2="243" stroke="#000"/>
<line x1="444.5" y1="274" x2="444.5" y2="285" stroke="#000"/>
<rect x="441.5" y="243.5" width="5" height="30" fill="#fff" fill-opacity="0.4" stroke="#000"/>
<line x1="450.5" y1="225" x2="450.5" y2="230" stroke="#000"/>
<line x1="450.5" y1="235" x2="450.5" y2="246" stroke="#000"/>
<rect x="447.5" y="230.5" width="5" height="4" fill="#fff" fill-opacity="0.4" stroke="#000"/>
<line x1="456.5" y1="194" x2="456.5" y2="209" stroke="#000"/>
<line x1="456.5" y1="220" x2="456.5" y2="223" stroke="#000"/>
<rect x="453.5" y="209.5" width="5" height="10" fill="#fff" fill-opacity="0.4" stroke="#000"/>
<line x1="462.5" y1="212" x2="462.5" y2="236" stroke="#d80036"/>
<rect x="459" y="217" width="6" height="9" fill="#d80036"/>
<line x1="468.5" y1="224" x2="468.5" y2="243" stroke="#d80036"/>
<rect x="465" y="225" width="6" height="9" fill="#d80036"/>
<line x1="474.5" y1="216" x2="474.5" y2="224" stroke="#000"/>
<line x1="474.5" y1="234" x2="474.5" y2="235" stroke="#000"/>
<rect x="471.5" y="224.5" width="5" height="9" fill="#fff" fill-opacity="0.4" stroke="#000"/>
<line x1="480.5" y1="212" x2="480.5" y2="231" stroke="#d80036"/>
<rect x="477" y="224" width="6" height="6" fill="#d80036"/>
<line x1="486.5" y1="172" x2="486.5" y2="189" stroke="#000"/>
<line x1="486.5" y1="211" x2="486.5" y2="213" stroke="#000"/>
<rect x="483.5" y="189.5" width="5" height="21" fill="#fff" fill-opacity="0.4" stroke="#000"/>
<line x1="492.5" y1="147" x2="492.5" y2="181" stroke="#000"/>
<line x1="492.5" y1="189" x2="492.5" y2="199" stroke="#000"/>
<rect x="489.5" y="181.5" width="5" height="7" fill="#fff" fill-opacity="0.4" stroke="#000"/>
<line x1="498.5" y1="174" x2="498.5" y2="201" stroke="#d80036"/>
<rect x="495" y="176" width="6" height="18" fill="#d80036"/>
<line x1="504.5" y1="189" x2="504.5" y2="207" stroke="#d80036"/>
<rect x="501" y="194" width="6" height="6" fill="#d80036"/>
<line x1="510.5" y1="195" x2="510.5" y2="218" stroke="#d80036"/>
<rect x="507" y="196" width="6" height="16" fill="#d80036"/>
<line x1="516.5" y1="210" x2="516.5" y2="228" stroke="#d80036"/>
<rect x="513" y="211" width="6" height="11" fill="#d80036"/>
<line x1="522.5" y1="212" x2="522.5" y2="240" stroke="#d80036"/>
<rect x="519" y="216" width="6" height="21" fill="#d80036"/>
<line x1="528.5" y1="236" x2="528.5" y2="260" stroke="#d80036"/>
<rect x="525" y="238" width="6" height="20" fill="#d80036"/>
<line x1="534.5" y1="239" x2="534.5" y2="272" stroke="#d80036"/>
<rect x="531" y="255" width="6" height="16" fill="#d80036"/>
<line x1="540.5" y1="262" x2="540.5" y2="290" stroke="#d80036"/>
<rect x="537" y="273" width="6" height="10" fill="#d80036"/>
<line x1="546.5" y1="221" x2="546.5" y2="223" stroke="#000"/>
<line x1="546.5" y1="282" x2="546.5" y2="287" stroke="#000"/>
<rect x="543.5" y="223.5" width="5" height="58" fill="#fff" fill-opacity="0.4" stroke="#000"/>
<line x1="552.5" y1="193" x2="552.5" y2="241" stroke="#d80036"/>
<rect x="549" y="221" width="6" height="13" fill="#d80036"/>
<line x1="558.5" y1="231" x2="558.5" y2="253" stroke="#d80036"/>
<rect x="555" y="233" width="6" height="19" fill="#d80036"/>
<line x1="564.5" y1="248" x2="564.5" y2="249" stroke="#000"/>
<line x1="564.5" y1="252" x2="564.5" y2="261" stroke="#000"/>
<rect x="561.5" y="249.5" width="5" height="2" fill="#fff" fill-opacity="0.4" stroke="#000"/>
<line x1="570.5" y1="245" x2="570.5" y2="262" stroke="#d80036"/>
<rect x="567" y="249" width="6" height="8" fill="#d80036"/>
<line x1="576.5" y1="245" x2="576.5" y2="248" stroke="#000"/>
<line x1="576.5" y1="258" x2="576.5" y2="261" stroke="#000"/>
<rect x="573.5" y="248.5" width="5" height="9" fill="#fff" fill-opacity="0.4" stroke="#000"/>
</g>
<g fill="none" stroke-linejoin="round" clip-path="url(#cpOut)">
<polyline points="0.0,150.0 6.0,147.0 12.0,142.4 18.4,139.0 24.0,138.0 30.0,138.0 36.0,137.4 42.0,137.4 48.0,138.0 54.0,140.0 60.0,142.4 66.0,142.4 120.0,142.4 126.0,145.0 132.0,150.0 135.0,156.0 138.0,162.0 144.0,162.4 150.0,162.4 156.0,162.4 162.0,165.0 168.0,166.6 174.0,168.0 180.0,168.4 186.0,168.4 192.0,168.4 198.0,168.0 204.0,167.0 210.0,165.0 216.0,163.6 222.0,163.4 228.0,163.4 234.0,163.6 240.4,164.4 246.4,165.6 252.4,169.4 258.4,172.4 264.4,173.4 270.4,173.6 276.4,174.6 282.4,176.4 288.4,178.4 294.4,180.4 300.4,180.6 306.4,181.4 312.4,184.0 318.4,187.4 324.4,189.4 330.4,190.6 336.4,191.6 342.4,193.4 348.4,195.0 354.4,197.4 360.0,200.0 364.0,205.0 370.0,215.0 376.0,223.0 382.0,232.0 388.0,241.0 394.0,250.0 400.0,260.0 406.0,269.0 410.0,277.0 414.0,283.0 420.0,286.0 426.0,287.6 432.0,288.6 438.0,288.6 441.0,280.0 444.0,271.0 447.0,260.0 450.0,249.0 453.0,240.0 456.0,233.0 460.0,227.0 462.4,221.0 468.4,215.0 474.4,209.0 480.4,203.6 486.4,194.0 492.4,183.0 495.0,180.5 500.0,176.5 505.0,174.0 510.0,173.3 515.0,173.8 520.0,174.8 525.0,176.2 530.0,177.5 538.0,178.4 544.0,179.4 550.0,181.0 556.0,182.5 564.0,183.5 576.5,184.8" stroke="#14701a" stroke-width="1.3"/>
<polyline points="0.0,193.0 6.0,194.4 12.0,196.4 18.4,198.4 24.0,199.0 30.0,200.4 36.0,201.4 42.0,201.4 48.0,201.4 54.0,201.4 60.0,202.0 66.0,203.0 72.0,204.0 78.0,205.6 84.0,207.4 90.0,209.0 96.0,210.4 102.0,209.4 108.0,208.6 114.0,207.6 120.0,206.5 126.0,206.0 132.0,200.0 135.0,195.0 138.4,190.4 144.0,191.4 150.0,192.6 156.0,193.6 162.0,191.4 168.0,191.0 174.0,191.0 180.0,192.4 186.0,193.6 192.0,194.4 198.0,195.6 204.0,198.0 210.0,203.0 216.0,209.0 222.0,214.0 228.0,219.4 234.0,225.4 240.4,230.0 246.4,231.4 252.4,230.6 258.4,232.0 264.4,235.0 270.4,239.4 276.4,244.0 282.4,251.0 288.4,257.0 294.4,265.0 300.4,275.0 306.4,286.0 312.4,299.0 318.4,308.0 324.4,318.0 330.4,336.0 336.4,356.0 342.0,375.0" stroke="#14701a" stroke-width="1.3"/>
<polyline points="520.0,375.0 522.4,364.0 528.4,348.0 534.4,337.0 540.4,331.0 546.4,315.0 552.4,300.0 558.4,289.4 564.4,290.4 570.4,294.4 576.4,298.4" stroke="#14701a" stroke-width="1.3"/>
<polyline points="2.0,170.4 6.0,169.0 12.0,166.4 18.4,164.4 24.0,164.0 30.0,164.0 36.0,164.6 42.0,165.0 48.0,165.6 54.0,166.6 60.0,168.0 66.0,169.0 72.0,169.6 78.0,170.0 84.0,170.4 90.0,171.0 96.0,171.4 102.0,171.4 108.0,171.0 114.0,170.6 120.0,170.8 126.0,172.4 132.0,173.6 138.0,175.0 144.0,176.4 150.0,177.0 156.0,177.6 162.0,178.4 168.0,179.0 174.0,179.4 180.0,179.6 186.0,180.0 192.0,180.0 198.0,180.4 204.0,181.6 210.0,183.0 216.0,184.4 222.0,186.0 228.0,188.0 234.0,190.0 240.4,192.4 246.4,193.6 252.4,195.6 258.4,198.0 264.4,200.4 270.4,202.4 276.4,205.4 282.4,208.4 288.4,211.6 294.4,215.0 300.4,219.0 306.4,224.0 312.4,228.6 318.4,233.0 324.4,238.0 330.4,243.0 336.4,248.0 342.4,253.0 348.4,258.0 354.4,262.4 360.4,267.4 366.4,275.0 372.4,284.0 378.4,291.6 384.4,298.0 390.4,304.6 396.4,310.4 402.4,315.4 408.4,319.0 414.4,323.2 420.4,325.0 426.4,325.4 432.4,325.4 438.4,325.4 444.4,321.0 450.4,314.0 456.4,305.0 462.4,296.0 468.4,289.0 474.4,282.0 480.4,275.0 486.4,268.4 492.4,262.0 497.0,257.0 502.0,250.0 508.0,244.0 514.0,239.0 520.0,235.6 528.4,232.4 534.4,230.0 540.4,228.0 546.4,226.4 552.4,225.4 558.4,224.6 564.4,225.4 570.4,226.6 576.4,228.4" stroke="#246b24" stroke-width="1.25" stroke-dasharray="2.4 2.4"/>
<polyline points="0.0,160.0 6.0,160.6 12.0,161.0 18.4,160.0 24.0,161.0 30.0,162.4 36.0,163.6 42.0,164.0 48.0,164.0 54.0,163.6 60.0,163.0 66.0,162.6 96.0,162.6 102.0,163.0 108.0,164.0 114.0,164.6 120.0,164.6 126.0,165.6 132.0,167.0 138.0,168.0 144.0,169.4 150.0,170.6 156.0,171.4 162.0,172.0 168.0,172.4 174.0,172.6 180.0,172.6 186.0,173.0 192.0,173.4 198.0,173.4 204.0,174.0 210.0,174.6 216.0,175.4 222.0,176.4 228.0,177.4 234.0,178.6 240.4,179.6 246.4,180.6 252.4,181.4 258.4,182.0 264.4,183.0 270.4,184.4 276.4,185.6 282.4,186.6 288.4,187.6 294.4,188.4 300.4,189.6 306.4,192.4 312.4,194.6 318.4,197.0 324.4,199.6 330.4,202.0 336.4,204.4 340.0,205.0 350.0,209.4 360.0,214.0 370.0,218.0 380.0,222.0 390.0,225.6 400.0,230.0 410.0,234.4 420.0,238.0 430.0,243.0 438.0,248.0 444.0,249.4 452.0,250.6 460.0,252.6 466.0,254.0 472.0,255.4 478.0,256.6 484.0,256.4 490.0,256.0 496.0,256.6 502.0,257.0 508.0,257.4 516.0,257.6 522.4,258.4 528.4,259.4 534.4,260.4 540.4,261.0 546.4,261.6 552.4,262.4 558.4,263.4 564.4,264.4 570.4,265.0 576.4,265.6" stroke="#1a1a9c" stroke-width="1.15"/>
</g>
<g fill="none" stroke-linejoin="round" clip-path="url(#cpPink)">
<polyline points="0.0,150.0 6.0,147.0 12.0,142.4 18.4,139.0 24.0,138.0 30.0,138.0 36.0,137.4 42.0,137.4 48.0,138.0 54.0,140.0 60.0,142.4 66.0,142.4 120.0,142.4 126.0,145.0 132.0,150.0 135.0,156.0 138.0,162.0 144.0,162.4 150.0,162.4 156.0,162.4 162.0,165.0 168.0,166.6 174.0,168.0 180.0,168.4 186.0,168.4 192.0,168.4 198.0,168.0 204.0,167.0 210.0,165.0 216.0,163.6 222.0,163.4 228.0,163.4 234.0,163.6 240.4,164.4 246.4,165.6 252.4,169.4 258.4,172.4 264.4,173.4 270.4,173.6 276.4,174.6 282.4,176.4 288.4,178.4 294.4,180.4 300.4,180.6 306.4,181.4 312.4,184.0 318.4,187.4 324.4,189.4 330.4,190.6 336.4,191.6 342.4,193.4 348.4,195.0 354.4,197.4 360.0,200.0 364.0,205.0 370.0,215.0 376.0,223.0 382.0,232.0 388.0,241.0 394.0,250.0 400.0,260.0 406.0,269.0 410.0,277.0 414.0,283.0 420.0,286.0 426.0,287.6 432.0,288.6 438.0,288.6 441.0,280.0 444.0,271.0 447.0,260.0 450.0,249.0 453.0,240.0 456.0,233.0 460.0,227.0 462.4,221.0 468.4,215.0 474.4,209.0 480.4,203.6 486.4,194.0 492.4,183.0 495.0,180.5 500.0,176.5 505.0,174.0 510.0,173.3 515.0,173.8 520.0,174.8 525.0,176.2 530.0,177.5 538.0,178.4 544.0,179.4 550.0,181.0 556.0,182.5 564.0,183.5 576.5,184.8" stroke="#3f5244" stroke-width="1.15"/>
<polyline points="0.0,193.0 6.0,194.4 12.0,196.4 18.4,198.4 24.0,199.0 30.0,200.4 36.0,201.4 42.0,201.4 48.0,201.4 54.0,201.4 60.0,202.0 66.0,203.0 72.0,204.0 78.0,205.6 84.0,207.4 90.0,209.0 96.0,210.4 102.0,209.4 108.0,208.6 114.0,207.6 120.0,206.5 126.0,206.0 132.0,200.0 135.0,195.0 138.4,190.4 144.0,191.4 150.0,192.6 156.0,193.6 162.0,191.4 168.0,191.0 174.0,191.0 180.0,192.4 186.0,193.6 192.0,194.4 198.0,195.6 204.0,198.0 210.0,203.0 216.0,209.0 222.0,214.0 228.0,219.4 234.0,225.4 240.4,230.0 246.4,231.4 252.4,230.6 258.4,232.0 264.4,235.0 270.4,239.4 276.4,244.0 282.4,251.0 288.4,257.0 294.4,265.0 300.4,275.0 306.4,286.0 312.4,299.0 318.4,308.0 324.4,318.0 330.4,336.0 336.4,356.0 342.0,375.0" stroke="#3f5244" stroke-width="1.15"/>
<polyline points="520.0,375.0 522.4,364.0 528.4,348.0 534.4,337.0 540.4,331.0 546.4,315.0 552.4,300.0 558.4,289.4 564.4,290.4 570.4,294.4 576.4,298.4" stroke="#3f5244" stroke-width="1.15"/>
<polyline points="2.0,170.4 6.0,169.0 12.0,166.4 18.4,164.4 24.0,164.0 30.0,164.0 36.0,164.6 42.0,165.0 48.0,165.6 54.0,166.6 60.0,168.0 66.0,169.0 72.0,169.6 78.0,170.0 84.0,170.4 90.0,171.0 96.0,171.4 102.0,171.4 108.0,171.0 114.0,170.6 120.0,170.8 126.0,172.4 132.0,173.6 138.0,175.0 144.0,176.4 150.0,177.0 156.0,177.6 162.0,178.4 168.0,179.0 174.0,179.4 180.0,179.6 186.0,180.0 192.0,180.0 198.0,180.4 204.0,181.6 210.0,183.0 216.0,184.4 222.0,186.0 228.0,188.0 234.0,190.0 240.4,192.4 246.4,193.6 252.4,195.6 258.4,198.0 264.4,200.4 270.4,202.4 276.4,205.4 282.4,208.4 288.4,211.6 294.4,215.0 300.4,219.0 306.4,224.0 312.4,228.6 318.4,233.0 324.4,238.0 330.4,243.0 336.4,248.0 342.4,253.0 348.4,258.0 354.4,262.4 360.4,267.4 366.4,275.0 372.4,284.0 378.4,291.6 384.4,298.0 390.4,304.6 396.4,310.4 402.4,315.4 408.4,319.0 414.4,323.2 420.4,325.0 426.4,325.4 432.4,325.4 438.4,325.4 444.4,321.0 450.4,314.0 456.4,305.0 462.4,296.0 468.4,289.0 474.4,282.0 480.4,275.0 486.4,268.4 492.4,262.0 497.0,257.0 502.0,250.0 508.0,244.0 514.0,239.0 520.0,235.6 528.4,232.4 534.4,230.0 540.4,228.0 546.4,226.4 552.4,225.4 558.4,224.6 564.4,225.4 570.4,226.6 576.4,228.4" stroke="#5c6e5e" stroke-width="1.1" stroke-dasharray="2.4 2.4"/>
<polyline points="0.0,160.0 6.0,160.6 12.0,161.0 18.4,160.0 24.0,161.0 30.0,162.4 36.0,163.6 42.0,164.0 48.0,164.0 54.0,163.6 60.0,163.0 66.0,162.6 96.0,162.6 102.0,163.0 108.0,164.0 114.0,164.6 120.0,164.6 126.0,165.6 132.0,167.0 138.0,168.0 144.0,169.4 150.0,170.6 156.0,171.4 162.0,172.0 168.0,172.4 174.0,172.6 180.0,172.6 186.0,173.0 192.0,173.4 198.0,173.4 204.0,174.0 210.0,174.6 216.0,175.4 222.0,176.4 228.0,177.4 234.0,178.6 240.4,179.6 246.4,180.6 252.4,181.4 258.4,182.0 264.4,183.0 270.4,184.4 276.4,185.6 282.4,186.6 288.4,187.6 294.4,188.4 300.4,189.6 306.4,192.4 312.4,194.6 318.4,197.0 324.4,199.6 330.4,202.0 336.4,204.4 340.0,205.0 350.0,209.4 360.0,214.0 370.0,218.0 380.0,222.0 390.0,225.6 400.0,230.0 410.0,234.4 420.0,238.0 430.0,243.0 438.0,248.0 444.0,249.4 452.0,250.6 460.0,252.6 466.0,254.0 472.0,255.4 478.0,256.6 484.0,256.4 490.0,256.0 496.0,256.6 502.0,257.0 508.0,257.4 516.0,257.6 522.4,258.4 528.4,259.4 534.4,260.4 540.4,261.0 546.4,261.6 552.4,262.4 558.4,263.4 564.4,264.4 570.4,265.0 576.4,265.6" stroke="#2e2aa0" stroke-width="1.15"/>
</g>
<polyline points="367.2,94.6 369.0,95.4 378.0,99.0 384.4,101.4 396.0,105.0 402.4,108.4 414.0,112.4 420.4,114.4 426.4,117.4 438.0,121.4 444.4,122.4 450.4,125.4 456.4,126.4 462.4,128.0 468.4,131.4 474.4,133.4 480.4,135.4 484.0,136.6 493.5,139.2 500.0,141.2 508.0,143.2 516.0,144.8 522.4,146.4 528.4,147.6 540.4,149.8 552.4,153.0 564.4,155.6 576.4,157.4" fill="none" stroke="#d21f45" stroke-width="1.3"/>
</g>
<line x1="399.6" y1="367.5" x2="581" y2="184.5" stroke="#f590f1" stroke-width="1.4"/>
<line x1="235" y1="183" x2="584" y2="183" stroke="#0000ff" stroke-width="2.3"/>
<line x1="396.0" y1="367.0" x2="597" y2="262.4" stroke="#0000ff" stroke-width="2.0" stroke-linecap="butt"/>
<polygon points="529.4,127.5 538.6,127.5 538.6,135.5 542.6,135.5 534.0,144.5 525.4,135.5 529.4,135.5" fill="#ff0000"/>
<polygon points="504.0,259.5 512.6,268.5 508.6,268.5 508.6,276.0 499.4,276.0 499.4,268.5 495.4,268.5" fill="#0000ff"/>
<path d="M366.5,161.5H523.5V180.5H366.5Z" fill="none" stroke="#666" stroke-dasharray="2.6 1.6"/>
<g shape-rendering="crispEdges" fill="#ffe000" stroke="#e8a000">
<rect x="364.5" y="159.5" width="4" height="4"/>
<rect x="521.5" y="159.5" width="4" height="4"/>
<rect x="364.5" y="178.5" width="4" height="4"/>
<rect x="521.5" y="178.5" width="4" height="4"/>
</g>
<text x="366.9" y="173.3" style="font-size:12.2px" fill="#000" stroke="#000" stroke-width="0.45" textLength="35.4" lengthAdjust="spacingAndGlyphs">17,20$</text>
<g fill="none">
<polygon points="6.7,429.5 12.5,417.0 18.5,411.0 22.1,429.5" fill="url(#gn)" stroke="none"/>
<polygon points="421.6,429.5 426.5,421.4 430.6,429.5" fill="url(#gn)" stroke="none"/>
<polygon points="438.7,429.5 444.5,396.4 450.5,404.4 456.5,402.4 462.5,419.4 468.5,426.4 474.5,426.4 480.5,429.4 486.5,420.6 492.5,418.4 498.5,427.4 501.7,429.5" fill="url(#gn)" stroke="none"/>
<polygon points="0.5,460.5 0.5,461.0 0.6,460.5" fill="url(#br)" stroke="none"/>
<polygon points="149.6,460.5 150.5,462.0 152.0,460.5" fill="url(#br)" stroke="none"/>
<polygon points="177.2,460.5 180.5,470.4 186.5,467.0 190.2,460.5" fill="url(#br)" stroke="none"/>
<polygon points="202.8,460.5 204.5,463.4 210.5,480.4 216.5,477.4 222.5,469.6 228.5,470.4 234.5,469.4 240.5,466.0 243.2,460.5" fill="url(#br)" stroke="none"/>
<polygon points="262.5,460.5 264.5,462.0 270.5,462.4 276.5,464.4 282.5,464.6 288.5,468.4 294.5,466.4 300.5,470.0 306.5,471.4 312.5,470.6 318.5,467.0 324.5,462.4 330.5,463.4 336.5,464.4 342.5,463.0 348.3,460.5" fill="url(#br)" stroke="none"/>
<line x1="0" y1="429.5" x2="584" y2="429.5" stroke="#666c66" stroke-width="1"/>
<line x1="0" y1="460.5" x2="584" y2="460.5" stroke="#666c66" stroke-width="1"/>
<line x1="1.5" y1="444.5" x2="584" y2="444.5" stroke="#666c66" stroke-width="1" stroke-dasharray="7.5 2.2 3 2.3"/>
</g>
<polyline points="0.5,461.0 6.5,430.0 12.5,417.0 18.5,411.0 24.5,442.0 30.5,457.4 36.5,456.0 42.5,439.0 48.5,444.4 54.5,440.4 60.5,449.0 66.5,453.4 72.5,454.4 78.5,455.4 84.5,457.4 90.5,457.4 96.5,453.0 102.5,449.4 108.5,447.4 114.5,448.4 120.5,444.4 126.5,452.4 132.5,450.0 138.5,439.4 144.5,452.0 150.5,462.0 156.5,456.0 162.5,450.4 168.5,453.4 174.5,452.6 180.5,470.4 186.5,467.0 192.5,456.4 198.5,453.4 204.5,463.4 210.5,480.4 216.5,477.4 222.5,469.6 228.5,470.4 234.5,469.4 240.5,466.0 246.5,453.6 252.5,453.6 258.5,457.4 264.5,462.0 270.5,462.4 276.5,464.4 282.5,464.6 288.5,468.4 294.5,466.4 300.5,470.0 306.5,471.4 312.5,470.6 318.5,467.0 324.5,462.4 330.5,463.4 336.5,464.4 342.5,463.0 348.5,460.4 354.5,459.6 360.5,459.4 366.5,457.4 372.5,457.4 378.5,457.4 384.5,458.4 390.5,456.0 396.5,458.4 402.5,457.0 408.5,448.0 414.5,437.4 420.5,431.4 426.5,421.4 432.5,433.4 438.5,430.6 444.5,396.4 450.5,404.4 456.5,402.4 462.5,419.4 468.5,426.4 474.5,426.4 480.5,429.4 486.5,420.6 492.5,418.4 498.5,427.4 504.5,431.4 510.5,435.4 516.5,439.4 522.5,443.0 528.5,451.0 534.5,454.4 540.5,459.4 546.5,449.4 552.5,443.4 558.5,455.0 564.5,458.4 570.5,458.4 576.5,455.4" fill="none" stroke="#111" stroke-width="1.2" stroke-linejoin="round"/>
<g fill="none">
<line x1="0" y1="511.5" x2="584" y2="511.5" stroke="#666c66" stroke-width="1"/>
<line x1="0" y1="562.5" x2="584" y2="562.5" stroke="#666c66" stroke-width="1"/>
<line x1="1.5" y1="536.5" x2="584" y2="536.5" stroke="#666c66" stroke-width="1" stroke-dasharray="7.5 2.2 3 2.3"/>
</g>
<polyline points="0.5,571.0 6.5,566.0 12.5,550.0 18.5,531.6 24.5,525.6 30.5,532.4 36.5,551.0 42.5,561.0 48.5,562.0 54.5,558.4 60.5,557.4 66.5,558.4 72.5,562.4 78.5,565.6 84.5,569.4 90.5,572.4 96.5,574.0 102.5,572.4 108.5,568.0 114.5,563.6 120.5,560.5 126.5,558.4 132.5,555.0 138.5,549.0 144.5,541.6 150.5,540.0 156.5,545.0 162.5,551.0 168.5,552.4 174.5,551.4 180.5,551.4 186.5,554.0 192.5,555.4 198.5,556.0 204.5,557.4 210.5,561.6 216.5,567.0 222.5,571.0 228.5,573.0 234.5,573.6 240.5,573.0 246.5,569.4 252.5,562.0 258.5,554.4 264.5,554.4 270.5,561.0 276.5,568.0 282.5,574.0 288.5,575.6 294.5,574.0 300.5,573.0 306.5,572.0 312.5,573.0 318.5,573.6 324.5,574.0 330.5,573.6 336.5,573.4 342.5,574.4 348.5,575.0 354.5,575.4 360.5,575.4 366.5,574.4 372.5,574.0 378.5,573.4 384.5,573.6 390.5,573.4 396.5,573.4 402.5,573.0 408.5,568.0 414.5,557.0 420.5,541.0 426.5,528.0 432.5,522.4 438.5,524.0 444.5,528.0 450.5,526.4 456.5,521.4 462.5,516.4 468.5,515.4 474.5,517.4 480.5,520.4 486.5,520.0 492.5,519.0 498.5,518.4 504.5,522.4 510.5,528.0 516.5,534.4 522.5,541.4 528.5,550.0 534.5,561.0 540.5,570.0 546.5,572.4 552.5,570.0 558.5,562.4 564.5,560.6 570.5,561.0 576.5,563.0" fill="none" stroke="#ff1010" stroke-width="1.15" stroke-linejoin="round"/>
<polyline points="0.5,571.6 6.5,552.0 12.5,532.0 18.5,513.6 24.5,531.0 30.5,550.0 36.5,568.0 42.5,563.0 48.5,558.4 54.5,554.4 60.5,560.0 66.5,563.0 72.5,566.4 78.5,569.4 84.5,573.4 90.5,575.4 96.5,575.0 102.5,568.0 108.5,564.0 114.5,560.0 120.5,558.0 126.5,557.4 132.5,549.0 138.5,538.4 144.5,536.4 150.5,546.0 156.5,554.4 162.5,554.4 168.5,548.6 174.5,550.4 180.5,553.4 186.5,558.0 192.5,556.0 198.5,556.4 204.5,559.6 210.5,568.0 216.5,573.0 222.5,573.0 228.5,573.4 234.5,574.4 240.5,572.2 246.5,562.0 252.5,550.4 258.5,551.6 264.5,561.0 270.5,571.0 276.5,574.0 282.5,576.0 288.5,576.0 294.5,571.4 300.5,572.4 306.5,571.4 312.5,575.0 318.5,574.4 324.5,573.6 330.5,573.4 336.5,574.0 342.5,575.0 348.5,575.4 354.5,575.4 360.5,575.2 366.5,573.4 372.5,573.4 378.5,573.4 384.5,574.0 390.5,573.4 396.5,573.4 402.5,572.4 408.5,560.0 414.5,541.0 420.5,522.4 426.5,519.4 432.5,524.4 438.5,529.4 444.5,530.4 450.5,520.0 456.5,514.4 462.5,513.4 468.5,517.4 474.5,521.4 480.5,522.4 486.5,517.4 492.5,518.4 498.5,521.4 504.5,527.4 510.5,533.0 516.5,538.4 522.5,547.4 528.5,560.0 534.5,571.6 540.5,577.4 546.5,568.0 552.5,561.4 558.5,558.4 564.5,562.0 570.5,565.0 576.5,562.6" fill="none" stroke="#000" stroke-width="1.8" stroke-linejoin="round"/>
<g fill="none">
<line x1="0" y1="95.5" x2="584" y2="95.5" stroke="#b3a0a0" stroke-width="1"/>
<line x1="0" y1="487.5" x2="584" y2="487.5" stroke="#bdb3b4" stroke-width="1"/>
<line x1="0" y1="375.5" x2="584" y2="375.5" stroke="#c6c2ca" stroke-width="1"/>
<line x1="0" y1="389.5" x2="584" y2="389.5" stroke="#c6c2ca" stroke-width="1"/>
<line x1="0" y1="585.5" x2="584" y2="585.5" stroke="#c6c2ca" stroke-width="1"/>
<line x1="583.5" y1="0" x2="583.5" y2="375.5" stroke="#c6c2ca"/>
<line x1="583.5" y1="389.5" x2="583.5" y2="487.5" stroke="#c6c2ca"/>
<line x1="583.5" y1="494" x2="583.5" y2="585.5" stroke="#c6c2ca"/>
<line x1="0" y1="595.9" x2="620" y2="595.9" stroke="#dedede"/>
<line x1="0.5" y1="376" x2="0.5" y2="377.2" stroke="#c6c2ca"/>
<line x1="0.5" y1="387.8" x2="0.5" y2="389" stroke="#c6c2ca"/>
<line x1="0.5" y1="586" x2="0.5" y2="587.2" stroke="#c6c2ca"/>
<line x1="6.5" y1="376" x2="6.5" y2="377.2" stroke="#c6c2ca"/>
<line x1="6.5" y1="387.8" x2="6.5" y2="389" stroke="#c6c2ca"/>
<line x1="6.5" y1="586" x2="6.5" y2="587.2" stroke="#c6c2ca"/>
<line x1="12.5" y1="376" x2="12.5" y2="377.2" stroke="#c6c2ca"/>
<line x1="12.5" y1="387.8" x2="12.5" y2="389" stroke="#c6c2ca"/>
<line x1="12.5" y1="586" x2="12.5" y2="587.2" stroke="#c6c2ca"/>
<line x1="18.5" y1="376" x2="18.5" y2="377.2" stroke="#c6c2ca"/>
<line x1="18.5" y1="387.8" x2="18.5" y2="389" stroke="#c6c2ca"/>
<line x1="18.5" y1="586" x2="18.5" y2="587.2" stroke="#c6c2ca"/>
<line x1="24.5" y1="376" x2="24.5" y2="377.2" stroke="#c6c2ca"/>
<line x1="24.5" y1="387.8" x2="24.5" y2="389" stroke="#c6c2ca"/>
<line x1="24.5" y1="586" x2="24.5" y2="587.2" stroke="#c6c2ca"/>
<line x1="30.5" y1="376" x2="30.5" y2="377.2" stroke="#c6c2ca"/>
<line x1="30.5" y1="387.8" x2="30.5" y2="389" stroke="#c6c2ca"/>
<line x1="30.5" y1="586" x2="30.5" y2="587.2" stroke="#c6c2ca"/>
<line x1="36.5" y1="376" x2="36.5" y2="377.2" stroke="#c6c2ca"/>
<line x1="36.5" y1="387.8" x2="36.5" y2="389" stroke="#c6c2ca"/>
<line x1="36.5" y1="586" x2="36.5" y2="587.2" stroke="#c6c2ca"/>
<line x1="42.5" y1="376" x2="42.5" y2="377.2" stroke="#c6c2ca"/>
<line x1="42.5" y1="387.8" x2="42.5" y2="389" stroke="#c6c2ca"/>
<line x1="42.5" y1="586" x2="42.5" y2="587.2" stroke="#c6c2ca"/>
<line x1="48.5" y1="376" x2="48.5" y2="377.2" stroke="#c6c2ca"/>
<line x1="48.5" y1="387.8" x2="48.5" y2="389" stroke="#c6c2ca"/>
<line x1="48.5" y1="586" x2="48.5" y2="587.2" stroke="#c6c2ca"/>
<line x1="54.5" y1="376" x2="54.5" y2="377.2" stroke="#c6c2ca"/>
<line x1="54.5" y1="387.8" x2="54.5" y2="389" stroke="#c6c2ca"/>
<line x1="54.5" y1="586" x2="54.5" y2="587.2" stroke="#c6c2ca"/>
<line x1="60.5" y1="376" x2="60.5" y2="377.2" stroke="#c6c2ca"/>
<line x1="60.5" y1="387.8" x2="60.5" y2="389" stroke="#c6c2ca"/>
<line x1="60.5" y1="586" x2="60.5" y2="587.2" stroke="#c6c2ca"/>
<line x1="66.5" y1="376" x2="66.5" y2="377.2" stroke="#c6c2ca"/>
<line x1="66.5" y1="387.8" x2="66.5" y2="389" stroke="#c6c2ca"/>
<line x1="66.5" y1="586" x2="66.5" y2="587.2" stroke="#c6c2ca"/>
<line x1="72.5" y1="376" x2="72.5" y2="377.2" stroke="#c6c2ca"/>
<line x1="72.5" y1="387.8" x2="72.5" y2="389" stroke="#c6c2ca"/>
<line x1="72.5" y1="586" x2="72.5" y2="587.2" stroke="#c6c2ca"/>
<line x1="78.5" y1="376" x2="78.5" y2="377.2" stroke="#c6c2ca"/>
<line x1="78.5" y1="387.8" x2="78.5" y2="389" stroke="#c6c2ca"/>
<line x1="78.5" y1="586" x2="78.5" y2="587.2" stroke="#c6c2ca"/>
<line x1="84.5" y1="376" x2="84.5" y2="377.2" stroke="#c6c2ca"/>
<line x1="84.5" y1="387.8" x2="84.5" y2="389" stroke="#c6c2ca"/>
<line x1="84.5" y1="586" x2="84.5" y2="587.2" stroke="#c6c2ca"/>
<line x1="90.5" y1="376" x2="90.5" y2="377.2" stroke="#c6c2ca"/>
<line x1="90.5" y1="387.8" x2="90.5" y2="389" stroke="#c6c2ca"/>
<line x1="90.5" y1="586" x2="90.5" y2="587.2" stroke="#c6c2ca"/>
<line x1="96.5" y1="376" x2="96.5" y2="377.2" stroke="#c6c2ca"/>
<line x1="96.5" y1="387.8" x2="96.5" y2="389" stroke="#c6c2ca"/>
<line x1="96.5" y1="586" x2="96.5" y2="587.2" stroke="#c6c2ca"/>
<line x1="102.5" y1="376" x2="102.5" y2="377.2" stroke="#c6c2ca"/>
<line x1="102.5" y1="387.8" x2="102.5" y2="389" stroke="#c6c2ca"/>
<line x1="102.5" y1="586" x2="102.5" y2="587.2" stroke="#c6c2ca"/>
<line x1="108.5" y1="376" x2="108.5" y2="377.2" stroke="#c6c2ca"/>
<line x1="108.5" y1="387.8" x2="108.5" y2="389" stroke="#c6c2ca"/>
<line x1="108.5" y1="586" x2="108.5" y2="587.2" stroke="#c6c2ca"/>
<line x1="114.5" y1="376" x2="114.5" y2="377.2" stroke="#c6c2ca"/>
<line x1="114.5" y1="387.8" x2="114.5" y2="389" stroke="#c6c2ca"/>
<line x1="114.5" y1="586" x2="114.5" y2="587.2" stroke="#c6c2ca"/>
<line x1="120.5" y1="376" x2="120.5" y2="377.2" stroke="#c6c2ca"/>
<line x1="120.5" y1="387.8" x2="120.5" y2="389" stroke="#c6c2ca"/>
<line x1="120.5" y1="586" x2="120.5" y2="587.2" stroke="#c6c2ca"/>
<line x1="126.5" y1="376" x2="126.5" y2="377.2" stroke="#c6c2ca"/>
<line x1="126.5" y1="387.8" x2="126.5" y2="389" stroke="#c6c2ca"/>
<line x1="126.5" y1="586" x2="126.5" y2="587.2" stroke="#c6c2ca"/>
<line x1="132.5" y1="376" x2="132.5" y2="377.2" stroke="#c6c2ca"/>
<line x1="132.5" y1="387.8" x2="132.5" y2="389" stroke="#c6c2ca"/>
<line x1="132.5" y1="586" x2="132.5" y2="587.2" stroke="#c6c2ca"/>
<line x1="138.5" y1="376" x2="138.5" y2="377.2" stroke="#c6c2ca"/>
<line x1="138.5" y1="387.8" x2="138.5" y2="389" stroke="#c6c2ca"/>
<line x1="138.5" y1="586" x2="138.5" y2="587.2" stroke="#c6c2ca"/>
<line x1="144.5" y1="376" x2="144.5" y2="377.2" stroke="#c6c2ca"/>
<line x1="144.5" y1="387.8" x2="144.5" y2="389" stroke="#c6c2ca"/>
<line x1="144.5" y1="586" x2="144.5" y2="587.2" stroke="#c6c2ca"/>
<line x1="150.5" y1="376" x2="150.5" y2="377.2" stroke="#c6c2ca"/>
<line x1="150.5" y1="387.8" x2="150.5" y2="389" stroke="#c6c2ca"/>
<line x1="150.5" y1="586" x2="150.5" y2="587.2" stroke="#c6c2ca"/>
<line x1="156.5" y1="376" x2="156.5" y2="377.2" stroke="#c6c2ca"/>
<line x1="156.5" y1="387.8" x2="156.5" y2="389" stroke="#c6c2ca"/>
<line x1="156.5" y1="586" x2="156.5" y2="587.2" stroke="#c6c2ca"/>
<line x1="162.5" y1="376" x2="162.5" y2="377.2" stroke="#c6c2ca"/>
<line x1="162.5" y1="387.8" x2="162.5" y2="389" stroke="#c6c2ca"/>
<line x1="162.5" y1="586" x2="162.5" y2="587.2" stroke="#c6c2ca"/>
<line x1="168.5" y1="376" x2="168.5" y2="377.2" stroke="#c6c2ca"/>
<line x1="168.5" y1="387.8" x2="168.5" y2="389" stroke="#c6c2ca"/>
<line x1="168.5" y1="586" x2="168.5" y2="587.2" stroke="#c6c2ca"/>
<line x1="174.5" y1="376" x2="174.5" y2="377.2" stroke="#c6c2ca"/>
<line x1="174.5" y1="387.8" x2="174.5" y2="389" stroke="#c6c2ca"/>
<line x1="174.5" y1="586" x2="174.5" y2="587.2" stroke="#c6c2ca"/>
<line x1="180.5" y1="376" x2="180.5" y2="377.2" stroke="#c6c2ca"/>
<line x1="180.5" y1="387.8" x2="180.5" y2="389" stroke="#c6c2ca"/>
<line x1="180.5" y1="586" x2="180.5" y2="587.2" stroke="#c6c2ca"/>
<line x1="186.5" y1="376" x2="186.5" y2="377.2" stroke="#c6c2ca"/>
<line x1="186.5" y1="387.8" x2="186.5" y2="389" stroke="#c6c2ca"/>
<line x1="186.5" y1="586" x2="186.5" y2="587.2" stroke="#c6c2ca"/>
<line x1="192.5" y1="376" x2="192.5" y2="377.2" stroke="#c6c2ca"/>
<line x1="192.5" y1="387.8" x2="192.5" y2="389" stroke="#c6c2ca"/>
<line x1="192.5" y1="586" x2="192.5" y2="587.2" stroke="#c6c2ca"/>
<line x1="198.5" y1="376" x2="198.5" y2="377.2" stroke="#c6c2ca"/>
<line x1="198.5" y1="387.8" x2="198.5" y2="389" stroke="#c6c2ca"/>
<line x1="198.5" y1="586" x2="198.5" y2="587.2" stroke="#c6c2ca"/>
<line x1="204.5" y1="376" x2="204.5" y2="377.2" stroke="#c6c2ca"/>
<line x1="204.5" y1="387.8" x2="204.5" y2="389" stroke="#c6c2ca"/>
<line x1="204.5" y1="586" x2="204.5" y2="587.2" stroke="#c6c2ca"/>
<line x1="210.5" y1="376" x2="210.5" y2="377.2" stroke="#c6c2ca"/>
<line x1="210.5" y1="387.8" x2="210.5" y2="389" stroke="#c6c2ca"/>
<line x1="210.5" y1="586" x2="210.5" y2="587.2" stroke="#c6c2ca"/>
<line x1="216.5" y1="376" x2="216.5" y2="377.2" stroke="#c6c2ca"/>
<line x1="216.5" y1="387.8" x2="216.5" y2="389" stroke="#c6c2ca"/>
<line x1="216.5" y1="586" x2="216.5" y2="587.2" stroke="#c6c2ca"/>
<line x1="222.5" y1="376" x2="222.5" y2="377.2" stroke="#c6c2ca"/>
<line x1="222.5" y1="387.8" x2="222.5" y2="389" stroke="#c6c2ca"/>
<line x1="222.5" y1="586" x2="222.5" y2="587.2" stroke="#c6c2ca"/>
<line x1="228.5" y1="376" x2="228.5" y2="377.2" stroke="#c6c2ca"/>
<line x1="228.5" y1="387.8" x2="228.5" y2="389" stroke="#c6c2ca"/>
<line x1="228.5" y1="586" x2="228.5" y2="587.2" stroke="#c6c2ca"/>
<line x1="234.5" y1="376" x2="234.5" y2="377.2" stroke="#c6c2ca"/>
<line x1="234.5" y1="387.8" x2="234.5" y2="389" stroke="#c6c2ca"/>
<line x1="234.5" y1="586" x2="234.5" y2="587.2" stroke="#c6c2ca"/>
<line x1="240.5" y1="376" x2="240.5" y2="377.2" stroke="#c6c2ca"/>
<line x1="240.5" y1="387.8" x2="240.5" y2="389" stroke="#c6c2ca"/>
<line x1="240.5" y1="586" x2="240.5" y2="587.2" stroke="#c6c2ca"/>
<line x1="246.5" y1="376" x2="246.5" y2="377.2" stroke="#c6c2ca"/>
<line x1="246.5" y1="387.8" x2="246.5" y2="389" stroke="#c6c2ca"/>
<line x1="246.5" y1="586" x2="246.5" y2="587.2" stroke="#c6c2ca"/>
<line x1="252.5" y1="376" x2="252.5" y2="377.2" stroke="#c6c2ca"/>
<line x1="252.5" y1="387.8" x2="252.5" y2="389" stroke="#c6c2ca"/>
<line x1="252.5" y1="586" x2="252.5" y2="587.2" stroke="#c6c2ca"/>
<line x1="258.5" y1="376" x2="258.5" y2="377.2" stroke="#c6c2ca"/>
<line x1="258.5" y1="387.8" x2="258.5" y2="389" stroke="#c6c2ca"/>
<line x1="258.5" y1="586" x2="258.5" y2="587.2" stroke="#c6c2ca"/>
<line x1="264.5" y1="376" x2="264.5" y2="377.2" stroke="#c6c2ca"/>
<line x1="264.5" y1="387.8" x2="264.5" y2="389" stroke="#c6c2ca"/>
<line x1="264.5" y1="586" x2="264.5" y2="587.2" stroke="#c6c2ca"/>
<line x1="270.5" y1="376" x2="270.5" y2="377.2" stroke="#c6c2ca"/>
<line x1="270.5" y1="387.8" x2="270.5" y2="389" stroke="#c6c2ca"/>
<line x1="270.5" y1="586" x2="270.5" y2="587.2" stroke="#c6c2ca"/>
<line x1="276.5" y1="376" x2="276.5" y2="377.2" stroke="#c6c2ca"/>
<line x1="276.5" y1="387.8" x2="276.5" y2="389" stroke="#c6c2ca"/>
<line x1="276.5" y1="586" x2="276.5" y2="587.2" stroke="#c6c2ca"/>
<line x1="282.5" y1="376" x2="282.5" y2="377.2" stroke="#c6c2ca"/>
<line x1="282.5" y1="387.8" x2="282.5" y2="389" stroke="#c6c2ca"/>
<line x1="282.5" y1="586" x2="282.5" y2="587.2" stroke="#c6c2ca"/>
<line x1="288.5" y1="376" x2="288.5" y2="377.2" stroke="#c6c2ca"/>
<line x1="288.5" y1="387.8" x2="288.5" y2="389" stroke="#c6c2ca"/>
<line x1="288.5" y1="586" x2="288.5" y2="587.2" stroke="#c6c2ca"/>
<line x1="294.5" y1="376" x2="294.5" y2="377.2" stroke="#c6c2ca"/>
<line x1="294.5" y1="387.8" x2="294.5" y2="389" stroke="#c6c2ca"/>
<line x1="294.5" y1="586" x2="294.5" y2="587.2" stroke="#c6c2ca"/>
<line x1="300.5" y1="376" x2="300.5" y2="377.2" stroke="#c6c2ca"/>
<line x1="300.5" y1="387.8" x2="300.5" y2="389" stroke="#c6c2ca"/>
<line x1="300.5" y1="586" x2="300.5" y2="587.2" stroke="#c6c2ca"/>
<line x1="306.5" y1="376" x2="306.5" y2="377.2" stroke="#c6c2ca"/>
<line x1="306.5" y1="387.8" x2="306.5" y2="389" stroke="#c6c2ca"/>
<line x1="306.5" y1="586" x2="306.5" y2="587.2" stroke="#c6c2ca"/>
<line x1="312.5" y1="376" x2="312.5" y2="377.2" stroke="#c6c2ca"/>
<line x1="312.5" y1="387.8" x2="312.5" y2="389" stroke="#c6c2ca"/>
<line x1="312.5" y1="586" x2="312.5" y2="587.2" stroke="#c6c2ca"/>
<line x1="318.5" y1="376" x2="318.5" y2="377.2" stroke="#c6c2ca"/>
<line x1="318.5" y1="387.8" x2="318.5" y2="389" stroke="#c6c2ca"/>
<line x1="318.5" y1="586" x2="318.5" y2="587.2" stroke="#c6c2ca"/>
<line x1="324.5" y1="376" x2="324.5" y2="377.2" stroke="#c6c2ca"/>
<line x1="324.5" y1="387.8" x2="324.5" y2="389" stroke="#c6c2ca"/>
<line x1="324.5" y1="586" x2="324.5" y2="587.2" stroke="#c6c2ca"/>
<line x1="330.5" y1="376" x2="330.5" y2="377.2" stroke="#c6c2ca"/>
<line x1="330.5" y1="387.8" x2="330.5" y2="389" stroke="#c6c2ca"/>
<line x1="330.5" y1="586" x2="330.5" y2="587.2" stroke="#c6c2ca"/>
<line x1="336.5" y1="376" x2="336.5" y2="377.2" stroke="#c6c2ca"/>
<line x1="336.5" y1="387.8" x2="336.5" y2="389" stroke="#c6c2ca"/>
<line x1="336.5" y1="586" x2="336.5" y2="587.2" stroke="#c6c2ca"/>
<line x1="342.5" y1="376" x2="342.5" y2="377.2" stroke="#c6c2ca"/>
<line x1="342.5" y1="387.8" x2="342.5" y2="389" stroke="#c6c2ca"/>
<line x1="342.5" y1="586" x2="342.5" y2="587.2" stroke="#c6c2ca"/>
<line x1="348.5" y1="376" x2="348.5" y2="377.2" stroke="#c6c2ca"/>
<line x1="348.5" y1="387.8" x2="348.5" y2="389" stroke="#c6c2ca"/>
<line x1="348.5" y1="586" x2="348.5" y2="587.2" stroke="#c6c2ca"/>
<line x1="354.5" y1="376" x2="354.5" y2="377.2" stroke="#c6c2ca"/>
<line x1="354.5" y1="387.8" x2="354.5" y2="389" stroke="#c6c2ca"/>
<line x1="354.5" y1="586" x2="354.5" y2="587.2" stroke="#c6c2ca"/>
<line x1="360.5" y1="376" x2="360.5" y2="377.2" stroke="#c6c2ca"/>
<line x1="360.5" y1="387.8" x2="360.5" y2="389" stroke="#c6c2ca"/>
<line x1="360.5" y1="586" x2="360.5" y2="587.2" stroke="#c6c2ca"/>
<line x1="366.5" y1="376" x2="366.5" y2="377.2" stroke="#c6c2ca"/>
<line x1="366.5" y1="387.8" x2="366.5" y2="389" stroke="#c6c2ca"/>
<line x1="366.5" y1="586" x2="366.5" y2="587.2" stroke="#c6c2ca"/>
<line x1="372.5" y1="376" x2="372.5" y2="377.2" stroke="#c6c2ca"/>
<line x1="372.5" y1="387.8" x2="372.5" y2="389" stroke="#c6c2ca"/>
<line x1="372.5" y1="586" x2="372.5" y2="587.2" stroke="#c6c2ca"/>
<line x1="378.5" y1="376" x2="378.5" y2="377.2" stroke="#c6c2ca"/>
<line x1="378.5" y1="387.8" x2="378.5" y2="389" stroke="#c6c2ca"/>
<line x1="378.5" y1="586" x2="378.5" y2="587.2" stroke="#c6c2ca"/>
<line x1="384.5" y1="376" x2="384.5" y2="377.2" stroke="#c6c2ca"/>
<line x1="384.5" y1="387.8" x2="384.5" y2="389" stroke="#c6c2ca"/>
<line x1="384.5" y1="586" x2="384.5" y2="587.2" stroke="#c6c2ca"/>
<line x1="390.5" y1="376" x2="390.5" y2="377.2" stroke="#c6c2ca"/>
<line x1="390.5" y1="387.8" x2="390.5" y2="389" stroke="#c6c2ca"/>
<line x1="390.5" y1="586" x2="390.5" y2="587.2" stroke="#c6c2ca"/>
<line x1="396.5" y1="376" x2="396.5" y2="377.2" stroke="#c6c2ca"/>
<line x1="396.5" y1="387.8" x2="396.5" y2="389" stroke="#c6c2ca"/>
<line x1="396.5" y1="586" x2="396.5" y2="587.2" stroke="#c6c2ca"/>
<line x1="402.5" y1="376" x2="402.5" y2="377.2" stroke="#c6c2ca"/>
<line x1="402.5" y1="387.8" x2="402.5" y2="389" stroke="#c6c2ca"/>
<line x1="402.5" y1="586" x2="402.5" y2="587.2" stroke="#c6c2ca"/>
<line x1="408.5" y1="376" x2="408.5" y2="377.2" stroke="#c6c2ca"/>
<line x1="408.5" y1="387.8" x2="408.5" y2="389" stroke="#c6c2ca"/>
<line x1="408.5" y1="586" x2="408.5" y2="587.2" stroke="#c6c2ca"/>
<line x1="414.5" y1="376" x2="414.5" y2="377.2" stroke="#c6c2ca"/>
<line x1="414.5" y1="387.8" x2="414.5" y2="389" stroke="#c6c2ca"/>
<line x1="414.5" y1="586" x2="414.5" y2="587.2" stroke="#c6c2ca"/>
<line x1="420.5" y1="376" x2="420.5" y2="377.2" stroke="#c6c2ca"/>
<line x1="420.5" y1="387.8" x2="420.5" y2="389" stroke="#c6c2ca"/>
<line x1="420.5" y1="586" x2="420.5" y2="587.2" stroke="#c6c2ca"/>
<line x1="426.5" y1="376" x2="426.5" y2="377.2" stroke="#c6c2ca"/>
<line x1="426.5" y1="387.8" x2="426.5" y2="389" stroke="#c6c2ca"/>
<line x1="426.5" y1="586" x2="426.5" y2="587.2" stroke="#c6c2ca"/>
<line x1="432.5" y1="376" x2="432.5" y2="377.2" stroke="#c6c2ca"/>
<line x1="432.5" y1="387.8" x2="432.5" y2="389" stroke="#c6c2ca"/>
<line x1="432.5" y1="586" x2="432.5" y2="587.2" stroke="#c6c2ca"/>
<line x1="438.5" y1="376" x2="438.5" y2="377.2" stroke="#c6c2ca"/>
<line x1="438.5" y1="387.8" x2="438.5" y2="389" stroke="#c6c2ca"/>
<line x1="438.5" y1="586" x2="438.5" y2="587.2" stroke="#c6c2ca"/>
<line x1="444.5" y1="376" x2="444.5" y2="377.2" stroke="#c6c2ca"/>
<line x1="444.5" y1="387.8" x2="444.5" y2="389" stroke="#c6c2ca"/>
<line x1="444.5" y1="586" x2="444.5" y2="587.2" stroke="#c6c2ca"/>
<line x1="450.5" y1="376" x2="450.5" y2="377.2" stroke="#c6c2ca"/>
<line x1="450.5" y1="387.8" x2="450.5" y2="389" stroke="#c6c2ca"/>
<line x1="450.5" y1="586" x2="450.5" y2="587.2" stroke="#c6c2ca"/>
<line x1="456.5" y1="376" x2="456.5" y2="377.2" stroke="#c6c2ca"/>
<line x1="456.5" y1="387.8" x2="456.5" y2="389" stroke="#c6c2ca"/>
<line x1="456.5" y1="586" x2="456.5" y2="587.2" stroke="#c6c2ca"/>
<line x1="462.5" y1="376" x2="462.5" y2="377.2" stroke="#c6c2ca"/>
<line x1="462.5" y1="387.8" x2="462.5" y2="389" stroke="#c6c2ca"/>
<line x1="462.5" y1="586" x2="462.5" y2="587.2" stroke="#c6c2ca"/>
<line x1="468.5" y1="376" x2="468.5" y2="377.2" stroke="#c6c2ca"/>
<line x1="468.5" y1="387.8" x2="468.5" y2="389" stroke="#c6c2ca"/>
<line x1="468.5" y1="586" x2="468.5" y2="587.2" stroke="#c6c2ca"/>
<line x1="474.5" y1="376" x2="474.5" y2="377.2" stroke="#c6c2ca"/>
<line x1="474.5" y1="387.8" x2="474.5" y2="389" stroke="#c6c2ca"/>
<line x1="474.5" y1="586" x2="474.5" y2="587.2" stroke="#c6c2ca"/>
<line x1="480.5" y1="376" x2="480.5" y2="377.2" stroke="#c6c2ca"/>
<line x1="480.5" y1="387.8" x2="480.5" y2="389" stroke="#c6c2ca"/>
<line x1="480.5" y1="586" x2="480.5" y2="587.2" stroke="#c6c2ca"/>
<line x1="486.5" y1="376" x2="486.5" y2="377.2" stroke="#c6c2ca"/>
<line x1="486.5" y1="387.8" x2="486.5" y2="389" stroke="#c6c2ca"/>
<line x1="486.5" y1="586" x2="486.5" y2="587.2" stroke="#c6c2ca"/>
<line x1="492.5" y1="376" x2="492.5" y2="377.2" stroke="#c6c2ca"/>
<line x1="492.5" y1="387.8" x2="492.5" y2="389" stroke="#c6c2ca"/>
<line x1="492.5" y1="586" x2="492.5" y2="587.2" stroke="#c6c2ca"/>
<line x1="498.5" y1="376" x2="498.5" y2="377.2" stroke="#c6c2ca"/>
<line x1="498.5" y1="387.8" x2="498.5" y2="389" stroke="#c6c2ca"/>
<line x1="498.5" y1="586" x2="498.5" y2="587.2" stroke="#c6c2ca"/>
<line x1="504.5" y1="376" x2="504.5" y2="377.2" stroke="#c6c2ca"/>
<line x1="504.5" y1="387.8" x2="504.5" y2="389" stroke="#c6c2ca"/>
<line x1="504.5" y1="586" x2="504.5" y2="587.2" stroke="#c6c2ca"/>
<line x1="510.5" y1="376" x2="510.5" y2="377.2" stroke="#c6c2ca"/>
<line x1="510.5" y1="387.8" x2="510.5" y2="389" stroke="#c6c2ca"/>
<line x1="510.5" y1="586" x2="510.5" y2="587.2" stroke="#c6c2ca"/>
<line x1="516.5" y1="376" x2="516.5" y2="377.2" stroke="#c6c2ca"/>
<line x1="516.5" y1="387.8" x2="516.5" y2="389" stroke="#c6c2ca"/>
<line x1="516.5" y1="586" x2="516.5" y2="587.2" stroke="#c6c2ca"/>
<line x1="522.5" y1="376" x2="522.5" y2="377.2" stroke="#c6c2ca"/>
<line x1="522.5" y1="387.8" x2="522.5" y2="389" stroke="#c6c2ca"/>
<line x1="522.5" y1="586" x2="522.5" y2="587.2" stroke="#c6c2ca"/>
<line x1="528.5" y1="376" x2="528.5" y2="377.2" stroke="#c6c2ca"/>
<line x1="528.5" y1="387.8" x2="528.5" y2="389" stroke="#c6c2ca"/>
<line x1="528.5" y1="586" x2="528.5" y2="587.2" stroke="#c6c2ca"/>
<line x1="534.5" y1="376" x2="534.5" y2="377.2" stroke="#c6c2ca"/>
<line x1="534.5" y1="387.8" x2="534.5" y2="389" stroke="#c6c2ca"/>
<line x1="534.5" y1="586" x2="534.5" y2="587.2" stroke="#c6c2ca"/>
<line x1="540.5" y1="376" x2="540.5" y2="377.2" stroke="#c6c2ca"/>
<line x1="540.5" y1="387.8" x2="540.5" y2="389" stroke="#c6c2ca"/>
<line x1="540.5" y1="586" x2="540.5" y2="587.2" stroke="#c6c2ca"/>
<line x1="546.5" y1="376" x2="546.5" y2="377.2" stroke="#c6c2ca"/>
<line x1="546.5" y1="387.8" x2="546.5" y2="389" stroke="#c6c2ca"/>
<line x1="546.5" y1="586" x2="546.5" y2="587.2" stroke="#c6c2ca"/>
<line x1="552.5" y1="376" x2="552.5" y2="377.2" stroke="#c6c2ca"/>
<line x1="552.5" y1="387.8" x2="552.5" y2="389" stroke="#c6c2ca"/>
<line x1="552.5" y1="586" x2="552.5" y2="587.2" stroke="#c6c2ca"/>
<line x1="558.5" y1="376" x2="558.5" y2="377.2" stroke="#c6c2ca"/>
<line x1="558.5" y1="387.8" x2="558.5" y2="389" stroke="#c6c2ca"/>
<line x1="558.5" y1="586" x2="558.5" y2="587.2" stroke="#c6c2ca"/>
<line x1="564.5" y1="376" x2="564.5" y2="377.2" stroke="#c6c2ca"/>
<line x1="564.5" y1="387.8" x2="564.5" y2="389" stroke="#c6c2ca"/>
<line x1="564.5" y1="586" x2="564.5" y2="587.2" stroke="#c6c2ca"/>
<line x1="570.5" y1="376" x2="570.5" y2="377.2" stroke="#c6c2ca"/>
<line x1="570.5" y1="387.8" x2="570.5" y2="389" stroke="#c6c2ca"/>
<line x1="570.5" y1="586" x2="570.5" y2="587.2" stroke="#c6c2ca"/>
<line x1="576.5" y1="376" x2="576.5" y2="377.2" stroke="#c6c2ca"/>
<line x1="576.5" y1="387.8" x2="576.5" y2="389" stroke="#c6c2ca"/>
<line x1="576.5" y1="586" x2="576.5" y2="587.2" stroke="#c6c2ca"/>
<line x1="584" y1="87.5" x2="585.2" y2="87.5" stroke="#c6c2ca"/>
<line x1="584" y1="79.5" x2="586.0" y2="79.5" stroke="#c6c2ca"/>
<line x1="584" y1="71.5" x2="585.2" y2="71.5" stroke="#c6c2ca"/>
<line x1="584" y1="63.5" x2="586.0" y2="63.5" stroke="#c6c2ca"/>
<line x1="584" y1="54.5" x2="585.2" y2="54.5" stroke="#c6c2ca"/>
<line x1="584" y1="46.5" x2="586.0" y2="46.5" stroke="#c6c2ca"/>
<line x1="584" y1="38.5" x2="585.2" y2="38.5" stroke="#c6c2ca"/>
<line x1="584" y1="30.5" x2="586.0" y2="30.5" stroke="#c6c2ca"/>
<line x1="584" y1="21.5" x2="585.2" y2="21.5" stroke="#c6c2ca"/>
<line x1="584" y1="13.5" x2="586.0" y2="13.5" stroke="#c6c2ca"/>
<line x1="584" y1="5.5" x2="585.2" y2="5.5" stroke="#c6c2ca"/>
<line x1="584" y1="99.5" x2="586.0" y2="99.5" stroke="#c6c2ca"/>
<line x1="584" y1="108.5" x2="586.0" y2="108.5" stroke="#c6c2ca"/>
<line x1="584" y1="117.5" x2="586.0" y2="117.5" stroke="#c6c2ca"/>
<line x1="584" y1="127.5" x2="586.0" y2="127.5" stroke="#c6c2ca"/>
<line x1="584" y1="139.5" x2="586.0" y2="139.5" stroke="#c6c2ca"/>
<line x1="584" y1="151.8" x2="586.0" y2="151.8" stroke="#c6c2ca"/>
<line x1="584" y1="165.5" x2="586.0" y2="165.5" stroke="#c6c2ca"/>
<line x1="584" y1="180.8" x2="586.0" y2="180.8" stroke="#c6c2ca"/>
<line x1="584" y1="198.5" x2="586.0" y2="198.5" stroke="#c6c2ca"/>
<line x1="584" y1="220.5" x2="586.0" y2="220.5" stroke="#c6c2ca"/>
<line x1="584" y1="246.5" x2="586.0" y2="246.5" stroke="#c6c2ca"/>
<line x1="584" y1="279.5" x2="586.0" y2="279.5" stroke="#c6c2ca"/>
<line x1="584" y1="327.5" x2="586.0" y2="327.5" stroke="#c6c2ca"/>
<line x1="584" y1="102.5" x2="585.2" y2="102.5" stroke="#c6c2ca"/>
<line x1="584" y1="106.5" x2="585.2" y2="106.5" stroke="#c6c2ca"/>
<line x1="584" y1="113.5" x2="585.2" y2="113.5" stroke="#c6c2ca"/>
<line x1="584" y1="121.5" x2="585.2" y2="121.5" stroke="#c6c2ca"/>
<line x1="584" y1="125.5" x2="585.2" y2="125.5" stroke="#c6c2ca"/>
<line x1="584" y1="134.5" x2="585.2" y2="134.5" stroke="#c6c2ca"/>
<line x1="584" y1="143.5" x2="585.2" y2="143.5" stroke="#c6c2ca"/>
<line x1="584" y1="148.5" x2="585.2" y2="148.5" stroke="#c6c2ca"/>
<line x1="584" y1="159.5" x2="585.2" y2="159.5" stroke="#c6c2ca"/>
<line x1="584" y1="170.5" x2="585.2" y2="170.5" stroke="#c6c2ca"/>
<line x1="584" y1="177.5" x2="585.2" y2="177.5" stroke="#c6c2ca"/>
<line x1="584" y1="183.5" x2="585.2" y2="183.5" stroke="#c6c2ca"/>
<line x1="584" y1="190.5" x2="585.2" y2="190.5" stroke="#c6c2ca"/>
<line x1="584" y1="206.5" x2="585.2" y2="206.5" stroke="#c6c2ca"/>
<line x1="584" y1="215.5" x2="585.2" y2="215.5" stroke="#c6c2ca"/>
<line x1="584" y1="224.5" x2="585.2" y2="224.5" stroke="#c6c2ca"/>
<line x1="584" y1="234.5" x2="585.2" y2="234.5" stroke="#c6c2ca"/>
<line x1="584" y1="258.5" x2="585.2" y2="258.5" stroke="#c6c2ca"/>
<line x1="584" y1="272.5" x2="585.2" y2="272.5" stroke="#c6c2ca"/>
<line x1="584" y1="287.5" x2="585.2" y2="287.5" stroke="#c6c2ca"/>
<line x1="584" y1="306.5" x2="585.2" y2="306.5" stroke="#c6c2ca"/>
<line x1="584" y1="353.5" x2="585.2" y2="353.5" stroke="#c6c2ca"/>
<line x1="584" y1="369.5" x2="585.2" y2="369.5" stroke="#c6c2ca"/>
<line x1="584" y1="398.5" x2="586.0" y2="398.5" stroke="#c6c2ca"/>
<line x1="584" y1="413.5" x2="586.0" y2="413.5" stroke="#c6c2ca"/>
<line x1="584" y1="429.5" x2="586.0" y2="429.5" stroke="#c6c2ca"/>
<line x1="584" y1="444.5" x2="586.0" y2="444.5" stroke="#c6c2ca"/>
<line x1="584" y1="460.5" x2="586.0" y2="460.5" stroke="#c6c2ca"/>
<line x1="584" y1="475.5" x2="586.0" y2="475.5" stroke="#c6c2ca"/>
<line x1="584" y1="578.5" x2="585.2" y2="578.5" stroke="#c6c2ca"/>
<line x1="584" y1="570.5" x2="585.2" y2="570.5" stroke="#c6c2ca"/>
<line x1="584" y1="562.5" x2="586.0" y2="562.5" stroke="#c6c2ca"/>
<line x1="584" y1="553.5" x2="585.2" y2="553.5" stroke="#c6c2ca"/>
<line x1="584" y1="545.5" x2="585.2" y2="545.5" stroke="#c6c2ca"/>
<line x1="584" y1="536.5" x2="586.0" y2="536.5" stroke="#c6c2ca"/>
<line x1="584" y1="528.5" x2="585.2" y2="528.5" stroke="#c6c2ca"/>
<line x1="584" y1="519.5" x2="585.2" y2="519.5" stroke="#c6c2ca"/>
<line x1="584" y1="511.5" x2="586.0" y2="511.5" stroke="#c6c2ca"/>
<line x1="584" y1="503.5" x2="585.2" y2="503.5" stroke="#c6c2ca"/>
<line x1="584" y1="494.5" x2="585.2" y2="494.5" stroke="#c6c2ca"/>
</g>
<text class="ax" x="586.7" y="16.0" textLength="12.0" lengthAdjust="spacingAndGlyphs">90</text>
<text class="ax" x="586.7" y="33.0" textLength="12.0" lengthAdjust="spacingAndGlyphs">70</text>
<text class="ax" x="586.7" y="49.0" textLength="12.0" lengthAdjust="spacingAndGlyphs">50</text>
<text class="ax" x="586.7" y="66.0" textLength="12.0" lengthAdjust="spacingAndGlyphs">30</text>
<text class="ax" x="586.7" y="82.0" textLength="12.0" lengthAdjust="spacingAndGlyphs">10</text>
<text class="ax" x="586.6" y="102.0" textLength="21.0" lengthAdjust="spacingAndGlyphs">35.0</text>
<text class="ax" x="586.6" y="111.0" textLength="21.0" lengthAdjust="spacingAndGlyphs">32.5</text>
<text class="ax" x="586.6" y="120.0" textLength="21.0" lengthAdjust="spacingAndGlyphs">30.0</text>
<text class="ax" x="586.6" y="130.0" textLength="21.0" lengthAdjust="spacingAndGlyphs">27.5</text>
<text class="ax" x="586.6" y="142.0" textLength="21.0" lengthAdjust="spacingAndGlyphs">25.0</text>
<text class="ax" x="586.6" y="154.3" textLength="21.0" lengthAdjust="spacingAndGlyphs">22.5</text>
<text class="ax" x="586.6" y="168.0" textLength="21.0" lengthAdjust="spacingAndGlyphs">20.0</text>
<text class="ax" x="586.6" y="183.3" textLength="21.0" lengthAdjust="spacingAndGlyphs">17.5</text>
<text class="ax" x="586.6" y="201.0" textLength="21.0" lengthAdjust="spacingAndGlyphs">15.0</text>
<text class="ax" x="586.6" y="223.0" textLength="21.0" lengthAdjust="spacingAndGlyphs">12.5</text>
<text class="ax" x="586.6" y="249.0" textLength="21.0" lengthAdjust="spacingAndGlyphs">10.0</text>
<text class="ax" x="592.6" y="282.0" textLength="15.0" lengthAdjust="spacingAndGlyphs">7.5</text>
<text class="ax" x="592.6" y="330.0" textLength="15.0" lengthAdjust="spacingAndGlyphs">5.0</text>
<text class="ax" x="589.6" y="401.0" textLength="18.0" lengthAdjust="spacingAndGlyphs">300</text>
<text class="ax" x="589.6" y="416.0" textLength="18.0" lengthAdjust="spacingAndGlyphs">200</text>
<text class="ax" x="589.6" y="432.0" textLength="18.0" lengthAdjust="spacingAndGlyphs">100</text>
<text class="ax" x="601.6" y="447.0" textLength="6.0" lengthAdjust="spacingAndGlyphs">0</text>
<text class="ax" x="586.0" y="463.0" textLength="21.6" lengthAdjust="spacingAndGlyphs">-100</text>
<text class="ax" x="586.0" y="478.0" textLength="21.6" lengthAdjust="spacingAndGlyphs">-200</text>
<text class="ax" x="586.7" y="514.0" textLength="12.0" lengthAdjust="spacingAndGlyphs">80</text>
<text class="ax" x="586.7" y="539.0" textLength="12.0" lengthAdjust="spacingAndGlyphs">50</text>
<text class="ax" x="586.7" y="565.0" textLength="12.0" lengthAdjust="spacingAndGlyphs">20</text>
<text class="mo" x="19.5" y="385.9">A</text>
<text class="mo" x="49.5" y="385.9">M</text>
<text class="mo" x="73.5" y="385.9">J</text>
<text class="mo" x="97.5" y="385.9">J</text>
<text class="mo" x="127.5" y="385.9">A</text>
<text class="mo" x="151.5" y="385.9">S</text>
<text class="mo" x="181.5" y="385.9">O</text>
<text class="mo" x="205.5" y="385.9">N</text>
<text class="mo" x="229.5" y="385.9">D</text>
<text class="yr" x="257.4" y="385.9">25</text>
<text class="mo" x="283.5" y="385.9">F</text>
<text class="mo" x="307.5" y="385.9">M</text>
<text class="mo" x="337.5" y="385.9">A</text>
<text class="mo" x="361.5" y="385.9">M</text>
<text class="mo" x="385.5" y="385.9">J</text>
<text class="mo" x="415.5" y="385.9">J</text>
<text class="mo" x="439.5" y="385.9">A</text>
<text class="mo" x="463.5" y="385.9">S</text>
<text class="mo" x="493.5" y="385.9">O</text>
<text class="mo" x="517.5" y="385.9">N</text>
<text class="mo" x="541.5" y="385.9">D</text>
<text class="yr" x="569.4" y="385.9">26</text>
<g clip-path="url(#cpBot)">
<text class="mo" x="19.5" y="595.1">A</text>
<text class="mo" x="49.5" y="595.1">M</text>
<text class="mo" x="73.5" y="595.1">J</text>
<text class="mo" x="97.5" y="595.1">J</text>
<text class="mo" x="127.5" y="595.1">A</text>
<text class="mo" x="151.5" y="595.1">S</text>
<text class="mo" x="181.5" y="595.1">O</text>
<text class="mo" x="205.5" y="595.1">N</text>
<text class="mo" x="229.5" y="595.1">D</text>
<text class="yr" x="257.4" y="595.1">25</text>
<text class="mo" x="283.5" y="595.1">F</text>
<text class="mo" x="307.5" y="595.1">M</text>
<text class="mo" x="337.5" y="595.1">A</text>
<text class="mo" x="361.5" y="595.1">M</text>
<text class="mo" x="385.5" y="595.1">J</text>
<text class="mo" x="415.5" y="595.1">J</text>
<text class="mo" x="439.5" y="595.1">A</text>
<text class="mo" x="463.5" y="595.1">S</text>
<text class="mo" x="493.5" y="595.1">O</text>
<text class="mo" x="517.5" y="595.1">N</text>
<text class="mo" x="541.5" y="595.1">D</text>
<text class="yr" x="569.4" y="595.1">26</text>
</g>
<text class="mono" x="0.8" y="497.8" fill="#000" stroke="#000" stroke-width="0.2" textLength="17" lengthAdjust="spacingAndGlyphs">13,</text>
<text class="mono" x="22.6" y="497.8" fill="#ff0000" stroke="#ff0000" stroke-width="0.2" textLength="30.8" lengthAdjust="spacingAndGlyphs">18.36</text>
</svg></body></html>
